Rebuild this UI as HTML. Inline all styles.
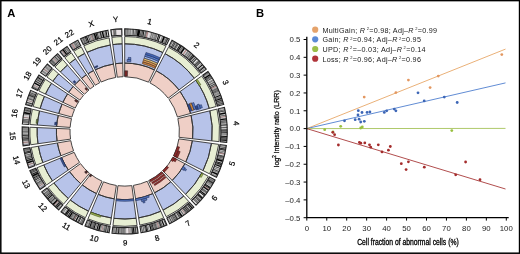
<!DOCTYPE html>
<html><head><meta charset="utf-8"><style>
html,body{margin:0;padding:0;background:#fff;overflow:hidden;}
svg{display:block;font-family:"Liberation Sans",sans-serif;will-change:transform;}
</style></head><body>
<svg width="520" height="254" viewBox="0 0 520 254">
<rect x="0" y="0" width="520" height="254" fill="#fff"/>
<g>
<path d="M124.7 63.1A68.3 68.3 0 0 1 154.42 69.91L148.51 82.15A54.7 54.7 0 0 0 124.7 76.7Z" fill="#efcfc6"/>
<path d="M124.7 43.8A87.6 87.6 0 0 1 162.82 52.53L154.42 69.91A68.3 68.3 0 0 0 124.7 63.1Z" fill="#b7c3e9"/>
<path d="M124.7 36.5A94.9 94.9 0 0 1 166 45.96L162.82 52.53A87.6 87.6 0 0 0 124.7 43.8Z" fill="#e7eed3"/>
<path d="M156.18 70.79A68.3 68.3 0 0 1 178.97 89.93L168.17 98.19A54.7 54.7 0 0 0 149.91 82.86Z" fill="#efcfc6"/>
<path d="M165.08 53.66A87.6 87.6 0 0 1 194.31 78.22L178.97 89.93A68.3 68.3 0 0 0 156.18 70.79Z" fill="#b7c3e9"/>
<path d="M168.44 47.18A94.9 94.9 0 0 1 200.11 73.79L194.31 78.22A87.6 87.6 0 0 0 165.08 53.66Z" fill="#e7eed3"/>
<path d="M180.14 91.51A68.3 68.3 0 0 1 190.6 113.45L177.48 117.02A54.7 54.7 0 0 0 169.1 99.46Z" fill="#efcfc6"/>
<path d="M195.81 80.24A87.6 87.6 0 0 1 209.22 108.38L190.6 113.45A68.3 68.3 0 0 0 180.14 91.51Z" fill="#b7c3e9"/>
<path d="M201.74 75.98A94.9 94.9 0 0 1 216.26 106.46L209.22 108.38A87.6 87.6 0 0 0 195.81 80.24Z" fill="#e7eed3"/>
<path d="M191.09 115.35A68.3 68.3 0 0 1 192.6 138.77L179.08 137.3A54.7 54.7 0 0 0 177.87 118.55Z" fill="#efcfc6"/>
<path d="M209.85 110.82A87.6 87.6 0 0 1 211.79 140.86L192.6 138.77A68.3 68.3 0 0 0 191.09 115.35Z" fill="#b7c3e9"/>
<path d="M216.94 109.11A94.9 94.9 0 0 1 219.05 141.64L211.79 140.86A87.6 87.6 0 0 0 209.85 110.82Z" fill="#e7eed3"/>
<path d="M192.36 140.73A68.3 68.3 0 0 1 185.79 161.95L173.62 155.87A54.7 54.7 0 0 0 178.89 138.87Z" fill="#efcfc6"/>
<path d="M211.48 143.36A87.6 87.6 0 0 1 203.05 170.58L185.79 161.95A68.3 68.3 0 0 0 192.36 140.73Z" fill="#b7c3e9"/>
<path d="M218.71 144.36A94.9 94.9 0 0 1 209.58 173.85L203.05 170.58A87.6 87.6 0 0 0 211.48 143.36Z" fill="#e7eed3"/>
<path d="M184.88 163.7A68.3 68.3 0 0 1 172.21 180.47L162.75 170.7A54.7 54.7 0 0 0 172.9 157.27Z" fill="#efcfc6"/>
<path d="M201.89 172.82A87.6 87.6 0 0 1 185.63 194.34L172.21 180.47A68.3 68.3 0 0 0 184.88 163.7Z" fill="#b7c3e9"/>
<path d="M208.32 176.28A94.9 94.9 0 0 1 190.71 199.58L185.63 194.34A87.6 87.6 0 0 0 201.89 172.82Z" fill="#e7eed3"/>
<path d="M170.77 181.82A68.3 68.3 0 0 1 154.59 192.81L148.64 180.58A54.7 54.7 0 0 0 161.6 171.78Z" fill="#efcfc6"/>
<path d="M183.79 196.07A87.6 87.6 0 0 1 163.04 210.17L154.59 192.81A68.3 68.3 0 0 0 170.77 181.82Z" fill="#b7c3e9"/>
<path d="M188.72 201.46A94.9 94.9 0 0 1 166.23 216.73L163.04 210.17A87.6 87.6 0 0 0 183.79 196.07Z" fill="#e7eed3"/>
<path d="M152.81 193.65A68.3 68.3 0 0 1 135.56 198.83L133.4 185.4A54.7 54.7 0 0 0 147.21 181.25Z" fill="#efcfc6"/>
<path d="M160.75 211.24A87.6 87.6 0 0 1 138.63 217.89L135.56 198.83A68.3 68.3 0 0 0 152.81 193.65Z" fill="#b7c3e9"/>
<path d="M163.76 217.89A94.9 94.9 0 0 1 139.79 225.09L138.63 217.89A87.6 87.6 0 0 0 160.75 211.24Z" fill="#e7eed3"/>
<path d="M133.62 199.12A68.3 68.3 0 0 1 116.24 199.17L117.93 185.68A54.7 54.7 0 0 0 131.84 185.63Z" fill="#efcfc6"/>
<path d="M136.13 218.25A87.6 87.6 0 0 1 113.85 218.33L116.24 199.17A68.3 68.3 0 0 0 133.62 199.12Z" fill="#b7c3e9"/>
<path d="M137.09 225.49A94.9 94.9 0 0 1 112.95 225.57L113.85 218.33A87.6 87.6 0 0 0 136.13 218.25Z" fill="#e7eed3"/>
<path d="M114.29 198.9A68.3 68.3 0 0 1 98.25 194.37L103.51 181.83A54.7 54.7 0 0 0 116.37 185.46Z" fill="#efcfc6"/>
<path d="M111.35 217.98A87.6 87.6 0 0 1 90.77 212.16L98.25 194.37A68.3 68.3 0 0 0 114.29 198.9Z" fill="#b7c3e9"/>
<path d="M110.24 225.19A94.9 94.9 0 0 1 87.94 218.89L90.77 212.16A87.6 87.6 0 0 0 111.35 217.98Z" fill="#e7eed3"/>
<path d="M96.44 193.58A68.3 68.3 0 0 1 82.27 184.92L90.71 174.26A54.7 54.7 0 0 0 102.07 181.2Z" fill="#efcfc6"/>
<path d="M88.46 211.15A87.6 87.6 0 0 1 70.27 200.04L82.27 184.92A68.3 68.3 0 0 0 96.44 193.58Z" fill="#b7c3e9"/>
<path d="M85.44 217.8A94.9 94.9 0 0 1 65.74 205.76L70.27 200.04A87.6 87.6 0 0 0 88.46 211.15Z" fill="#e7eed3"/>
<path d="M80.74 183.67A68.3 68.3 0 0 1 69.5 171.62L80.49 163.61A54.7 54.7 0 0 0 89.49 173.27Z" fill="#efcfc6"/>
<path d="M68.32 198.45A87.6 87.6 0 0 1 53.9 182.99L69.5 171.62A68.3 68.3 0 0 0 80.74 183.67Z" fill="#b7c3e9"/>
<path d="M63.62 204.03A94.9 94.9 0 0 1 48 187.29L53.9 182.99A87.6 87.6 0 0 0 68.32 198.45Z" fill="#e7eed3"/>
<path d="M68.36 170.02A68.3 68.3 0 0 1 61.6 157.54L74.17 152.34A54.7 54.7 0 0 0 79.58 162.33Z" fill="#efcfc6"/>
<path d="M52.45 180.93A87.6 87.6 0 0 1 43.77 164.93L61.6 157.54A68.3 68.3 0 0 0 68.36 170.02Z" fill="#b7c3e9"/>
<path d="M46.42 185.06A94.9 94.9 0 0 1 37.03 167.73L43.77 164.93A87.6 87.6 0 0 0 52.45 180.93Z" fill="#e7eed3"/>
<path d="M60.88 155.72A68.3 68.3 0 0 1 57.39 142.97L70.79 140.66A54.7 54.7 0 0 0 73.58 150.87Z" fill="#efcfc6"/>
<path d="M42.84 162.59A87.6 87.6 0 0 1 38.37 146.24L57.39 142.97A68.3 68.3 0 0 0 60.88 155.72Z" fill="#b7c3e9"/>
<path d="M36.02 165.19A94.9 94.9 0 0 1 31.17 147.47L38.37 146.24A87.6 87.6 0 0 0 42.84 162.59Z" fill="#e7eed3"/>
<path d="M57.08 141.02A68.3 68.3 0 0 1 56.47 128.41L70.05 129.01A54.7 54.7 0 0 0 70.55 139.11Z" fill="#efcfc6"/>
<path d="M37.97 143.74A87.6 87.6 0 0 1 37.18 127.57L56.47 128.41A68.3 68.3 0 0 0 57.08 141.02Z" fill="#b7c3e9"/>
<path d="M30.75 144.77A94.9 94.9 0 0 1 29.89 127.25L37.18 127.57A87.6 87.6 0 0 0 37.97 143.74Z" fill="#e7eed3"/>
<path d="M56.58 126.45A68.3 68.3 0 0 1 58.29 115.44L71.51 118.62A54.7 54.7 0 0 0 70.14 127.43Z" fill="#efcfc6"/>
<path d="M37.33 125.05A87.6 87.6 0 0 1 39.53 110.93L58.29 115.44A68.3 68.3 0 0 0 56.58 126.45Z" fill="#b7c3e9"/>
<path d="M30.05 124.52A94.9 94.9 0 0 1 32.43 109.22L39.53 110.93A87.6 87.6 0 0 0 37.33 125.05Z" fill="#e7eed3"/>
<path d="M58.78 113.53A68.3 68.3 0 0 1 62.1 104.09L74.56 109.53A54.7 54.7 0 0 0 71.9 117.09Z" fill="#efcfc6"/>
<path d="M40.15 108.48A87.6 87.6 0 0 1 44.41 96.37L62.1 104.09A68.3 68.3 0 0 0 58.78 113.53Z" fill="#b7c3e9"/>
<path d="M33.1 106.57A94.9 94.9 0 0 1 37.72 93.45L44.41 96.37A87.6 87.6 0 0 0 40.15 108.48Z" fill="#e7eed3"/>
<path d="M62.91 102.3A68.3 68.3 0 0 1 67.62 93.9L78.98 101.37A54.7 54.7 0 0 0 75.21 108.09Z" fill="#efcfc6"/>
<path d="M45.45 94.08A87.6 87.6 0 0 1 51.49 83.3L67.62 93.9A68.3 68.3 0 0 0 62.91 102.3Z" fill="#b7c3e9"/>
<path d="M38.85 90.96A94.9 94.9 0 0 1 45.38 79.29L51.49 83.3A87.6 87.6 0 0 0 45.45 94.08Z" fill="#e7eed3"/>
<path d="M68.72 92.27A68.3 68.3 0 0 1 73.21 86.53L83.46 95.46A54.7 54.7 0 0 0 79.87 100.06Z" fill="#efcfc6"/>
<path d="M52.9 81.21A87.6 87.6 0 0 1 58.66 73.85L73.21 86.53A68.3 68.3 0 0 0 68.72 92.27Z" fill="#b7c3e9"/>
<path d="M46.92 77.03A94.9 94.9 0 0 1 53.15 69.05L58.66 73.85A87.6 87.6 0 0 0 52.9 81.21Z" fill="#e7eed3"/>
<path d="M74.52 85.06A68.3 68.3 0 0 1 80.11 79.67L88.99 89.97A54.7 54.7 0 0 0 84.51 94.29Z" fill="#efcfc6"/>
<path d="M60.34 71.97A87.6 87.6 0 0 1 67.51 65.05L80.11 79.67A68.3 68.3 0 0 0 74.52 85.06Z" fill="#b7c3e9"/>
<path d="M54.98 67.02A94.9 94.9 0 0 1 62.74 59.52L67.51 65.05A87.6 87.6 0 0 0 60.34 71.97Z" fill="#e7eed3"/>
<path d="M81.62 78.4A68.3 68.3 0 0 1 86.38 74.86L94.01 86.12A54.7 54.7 0 0 0 90.19 88.96Z" fill="#efcfc6"/>
<path d="M69.44 63.43A87.6 87.6 0 0 1 75.55 58.89L86.38 74.86A68.3 68.3 0 0 0 81.62 78.4Z" fill="#b7c3e9"/>
<path d="M64.84 57.76A94.9 94.9 0 0 1 71.45 52.85L75.55 58.89A87.6 87.6 0 0 0 69.44 63.43Z" fill="#e7eed3"/>
<path d="M88.02 73.78A68.3 68.3 0 0 1 93.51 70.64L99.72 82.74A54.7 54.7 0 0 0 95.32 85.26Z" fill="#efcfc6"/>
<path d="M77.66 57.5A87.6 87.6 0 0 1 84.7 53.47L93.51 70.64A68.3 68.3 0 0 0 88.02 73.78Z" fill="#b7c3e9"/>
<path d="M73.74 51.35A94.9 94.9 0 0 1 81.36 46.97L84.7 53.47A87.6 87.6 0 0 0 77.66 57.5Z" fill="#e7eed3"/>
<path d="M95.27 69.76A68.3 68.3 0 0 1 113.49 64.03L115.72 77.44A54.7 54.7 0 0 0 101.13 82.04Z" fill="#efcfc6"/>
<path d="M86.96 52.35A87.6 87.6 0 0 1 110.32 44.99L113.49 64.03A68.3 68.3 0 0 0 95.27 69.76Z" fill="#b7c3e9"/>
<path d="M83.81 45.76A94.9 94.9 0 0 1 109.12 37.79L110.32 44.99A87.6 87.6 0 0 0 86.96 52.35Z" fill="#e7eed3"/>
<path d="M115.43 63.73A68.3 68.3 0 0 1 122.73 63.13L123.12 76.72A54.7 54.7 0 0 0 117.28 77.21Z" fill="#efcfc6"/>
<path d="M112.81 44.61A87.6 87.6 0 0 1 122.18 43.84L122.73 63.13A68.3 68.3 0 0 0 115.43 63.73Z" fill="#b7c3e9"/>
<path d="M111.82 37.38A94.9 94.9 0 0 1 121.97 36.54L122.18 43.84A87.6 87.6 0 0 0 112.81 44.61Z" fill="#e7eed3"/>
<path d="M124.7 28.8A102.6 102.6 0 0 1 169.35 39.03L166.57 44.79A96.2 96.2 0 0 0 124.7 35.2Z" fill="#efefef"/>
<path d="M125.13 28.8A102.6 102.6 0 0 1 125.68 28.8L125.62 35.2A96.2 96.2 0 0 0 125.1 35.2Z" fill="#9a9a9a" stroke="#333" stroke-width="0.22"/>
<path d="M126.02 28.81A102.6 102.6 0 0 1 126.41 28.81L126.3 35.21A96.2 96.2 0 0 0 125.93 35.21Z" fill="#9a9a9a" stroke="#333" stroke-width="0.22"/>
<path d="M127.02 28.83A102.6 102.6 0 0 1 127.65 28.84L127.46 35.24A96.2 96.2 0 0 0 126.87 35.22Z" fill="#666666" stroke="#333" stroke-width="0.22"/>
<path d="M128.42 28.87A102.6 102.6 0 0 1 129.07 28.89L128.8 35.29A96.2 96.2 0 0 0 128.19 35.26Z" fill="#9a9a9a" stroke="#333" stroke-width="0.22"/>
<path d="M129.81 28.93A102.6 102.6 0 0 1 130.24 28.95L129.89 35.34A96.2 96.2 0 0 0 129.49 35.32Z" fill="#9a9a9a" stroke="#333" stroke-width="0.22"/>
<path d="M130.68 28.97A102.6 102.6 0 0 1 131.05 29L130.66 35.38A96.2 96.2 0 0 0 130.31 35.36Z" fill="#9a9a9a" stroke="#333" stroke-width="0.22"/>
<path d="M132.03 29.06A102.6 102.6 0 0 1 132.79 29.12L132.29 35.5A96.2 96.2 0 0 0 131.58 35.45Z" fill="#9a9a9a" stroke="#333" stroke-width="0.22"/>
<path d="M133.27 29.16A102.6 102.6 0 0 1 133.99 29.22L133.41 35.6A96.2 96.2 0 0 0 132.74 35.54Z" fill="#363636" stroke="#333" stroke-width="0.22"/>
<path d="M134.99 29.32A102.6 102.6 0 0 1 135.52 29.37L134.85 35.74A96.2 96.2 0 0 0 134.35 35.68Z" fill="#666666" stroke="#333" stroke-width="0.22"/>
<path d="M135.95 29.42A102.6 102.6 0 0 1 137.36 29.58L136.57 35.94A96.2 96.2 0 0 0 135.24 35.78Z" fill="#666666" stroke="#333" stroke-width="0.22"/>
<path d="M137.6 29.61A102.6 102.6 0 0 1 140.37 30L139.4 36.33A96.2 96.2 0 0 0 136.8 35.96Z" fill="#000000" stroke="#333" stroke-width="0.22"/>
<path d="M141.01 30.11A102.6 102.6 0 0 1 141.67 30.21L140.61 36.53A96.2 96.2 0 0 0 140 36.42Z" fill="#363636" stroke="#333" stroke-width="0.22"/>
<path d="M142.17 30.3A102.6 102.6 0 0 1 143.08 30.46L141.93 36.76A96.2 96.2 0 0 0 141.08 36.6Z" fill="#363636" stroke="#333" stroke-width="0.22"/>
<path d="M143.53 30.54A102.6 102.6 0 0 1 144.44 30.72L143.21 37A96.2 96.2 0 0 0 142.36 36.83Z" fill="#000000" stroke="#333" stroke-width="0.22"/>
<path d="M145.28 30.89A102.6 102.6 0 0 1 146.06 31.05L144.73 37.31A96.2 96.2 0 0 0 144 37.16Z" fill="#666666" stroke="#333" stroke-width="0.22"/>
<path d="M146.37 31.11A102.6 102.6 0 0 1 146.89 31.23L145.51 37.48A96.2 96.2 0 0 0 145.02 37.37Z" fill="#666666" stroke="#333" stroke-width="0.22"/>
<path d="M147.04 31.26A102.6 102.6 0 0 1 148.38 31.57L146.9 37.8A96.2 96.2 0 0 0 145.65 37.51Z" fill="#c89494" stroke="#333" stroke-width="0.22"/>
<path d="M148.38 31.57A102.6 102.6 0 0 1 150.84 32.19L149.21 38.37A96.2 96.2 0 0 0 146.9 37.8Z" fill="#e8e2e4" stroke="#333" stroke-width="0.22"/>
<path d="M151.63 32.4A102.6 102.6 0 0 1 152.22 32.56L150.5 38.72A96.2 96.2 0 0 0 149.95 38.57Z" fill="#666666" stroke="#333" stroke-width="0.22"/>
<path d="M153.05 32.8A102.6 102.6 0 0 1 153.32 32.87L151.54 39.02A96.2 96.2 0 0 0 151.29 38.95Z" fill="#666666" stroke="#333" stroke-width="0.22"/>
<path d="M153.78 33.01A102.6 102.6 0 0 1 154.03 33.08L152.2 39.22A96.2 96.2 0 0 0 151.97 39.15Z" fill="#666666" stroke="#333" stroke-width="0.22"/>
<path d="M154.92 33.35A102.6 102.6 0 0 1 155.22 33.44L153.32 39.55A96.2 96.2 0 0 0 153.03 39.47Z" fill="#666666" stroke="#333" stroke-width="0.22"/>
<path d="M155.87 33.65A102.6 102.6 0 0 1 156.23 33.76L154.26 39.85A96.2 96.2 0 0 0 153.93 39.75Z" fill="#363636" stroke="#333" stroke-width="0.22"/>
<path d="M156.77 33.94A102.6 102.6 0 0 1 157.53 34.19L155.48 40.26A96.2 96.2 0 0 0 154.77 40.02Z" fill="#666666" stroke="#333" stroke-width="0.22"/>
<path d="M158.49 34.53A102.6 102.6 0 0 1 159.37 34.83L157.2 40.86A96.2 96.2 0 0 0 156.39 40.57Z" fill="#000000" stroke="#333" stroke-width="0.22"/>
<path d="M159.89 35.02A102.6 102.6 0 0 1 160.74 35.34L158.49 41.33A96.2 96.2 0 0 0 157.69 41.04Z" fill="#000000" stroke="#333" stroke-width="0.22"/>
<path d="M162.21 35.9A102.6 102.6 0 0 1 162.95 36.2L160.57 42.14A96.2 96.2 0 0 0 159.87 41.86Z" fill="#9a9a9a" stroke="#333" stroke-width="0.22"/>
<path d="M163.47 36.41A102.6 102.6 0 0 1 165.11 37.09L162.59 42.98A96.2 96.2 0 0 0 161.05 42.33Z" fill="#000000" stroke="#333" stroke-width="0.22"/>
<path d="M165.19 37.13A102.6 102.6 0 0 1 165.6 37.31L163.05 43.18A96.2 96.2 0 0 0 162.67 43.01Z" fill="#9a9a9a" stroke="#333" stroke-width="0.22"/>
<path d="M166.23 37.58A102.6 102.6 0 0 1 166.91 37.88L164.28 43.72A96.2 96.2 0 0 0 163.64 43.43Z" fill="#666666" stroke="#333" stroke-width="0.22"/>
<path d="M167.23 38.03A102.6 102.6 0 0 1 168.42 38.58L165.7 44.37A96.2 96.2 0 0 0 164.58 43.85Z" fill="#363636" stroke="#333" stroke-width="0.22"/>
<path d="M171.99 40.35A102.6 102.6 0 0 1 206.23 69.11L201.14 73A96.2 96.2 0 0 0 169.04 46.03Z" fill="#efefef"/>
<path d="M172.71 40.73A102.6 102.6 0 0 1 173.16 40.96L170.13 46.6A96.2 96.2 0 0 0 169.72 46.38Z" fill="#666666" stroke="#333" stroke-width="0.22"/>
<path d="M173.99 41.41A102.6 102.6 0 0 1 174.72 41.82L171.6 47.41A96.2 96.2 0 0 0 170.91 47.03Z" fill="#363636" stroke="#333" stroke-width="0.22"/>
<path d="M175.12 42.04A102.6 102.6 0 0 1 175.89 42.48L172.7 48.03A96.2 96.2 0 0 0 171.98 47.62Z" fill="#363636" stroke="#333" stroke-width="0.22"/>
<path d="M176.52 42.85A102.6 102.6 0 0 1 176.85 43.04L173.6 48.56A96.2 96.2 0 0 0 173.29 48.37Z" fill="#9a9a9a" stroke="#333" stroke-width="0.22"/>
<path d="M177.19 43.24A102.6 102.6 0 0 1 177.9 43.67L174.59 49.15A96.2 96.2 0 0 0 173.92 48.74Z" fill="#363636" stroke="#333" stroke-width="0.22"/>
<path d="M178.22 43.87A102.6 102.6 0 0 1 178.73 44.18L175.36 49.62A96.2 96.2 0 0 0 174.88 49.33Z" fill="#666666" stroke="#333" stroke-width="0.22"/>
<path d="M179.67 44.77A102.6 102.6 0 0 1 180.46 45.28L176.99 50.65A96.2 96.2 0 0 0 176.24 50.17Z" fill="#000000" stroke="#333" stroke-width="0.22"/>
<path d="M180.79 45.49A102.6 102.6 0 0 1 181.76 46.13L178.21 51.45A96.2 96.2 0 0 0 177.29 50.85Z" fill="#000000" stroke="#333" stroke-width="0.22"/>
<path d="M182.2 46.42A102.6 102.6 0 0 1 182.88 46.89L179.25 52.16A96.2 96.2 0 0 0 178.61 51.72Z" fill="#666666" stroke="#333" stroke-width="0.22"/>
<path d="M183.33 47.2A102.6 102.6 0 0 1 183.63 47.41L179.95 52.65A96.2 96.2 0 0 0 179.67 52.45Z" fill="#666666" stroke="#333" stroke-width="0.22"/>
<path d="M183.86 47.57A102.6 102.6 0 0 1 185.11 48.47L181.34 53.64A96.2 96.2 0 0 0 180.17 52.8Z" fill="#000000" stroke="#333" stroke-width="0.22"/>
<path d="M186.18 49.26A102.6 102.6 0 0 1 187.11 49.97L183.22 55.05A96.2 96.2 0 0 0 182.35 54.38Z" fill="#c89494" stroke="#333" stroke-width="0.22"/>
<path d="M187.98 50.64A102.6 102.6 0 0 1 188.46 51.01L184.48 56.03A96.2 96.2 0 0 0 184.03 55.67Z" fill="#666666" stroke="#333" stroke-width="0.22"/>
<path d="M188.67 51.19A102.6 102.6 0 0 1 189.06 51.5L185.05 56.48A96.2 96.2 0 0 0 184.68 56.19Z" fill="#9a9a9a" stroke="#333" stroke-width="0.22"/>
<path d="M189.67 51.99A102.6 102.6 0 0 1 190.3 52.51L186.21 57.43A96.2 96.2 0 0 0 185.62 56.94Z" fill="#666666" stroke="#333" stroke-width="0.22"/>
<path d="M190.81 52.94A102.6 102.6 0 0 1 191.87 53.84L187.68 58.68A96.2 96.2 0 0 0 186.69 57.83Z" fill="#666666" stroke="#333" stroke-width="0.22"/>
<path d="M192.23 54.16A102.6 102.6 0 0 1 192.59 54.48L188.36 59.27A96.2 96.2 0 0 0 188.02 58.98Z" fill="#9a9a9a" stroke="#333" stroke-width="0.22"/>
<path d="M192.83 54.68A102.6 102.6 0 0 1 193.57 55.35L189.28 60.1A96.2 96.2 0 0 0 188.58 59.47Z" fill="#000000" stroke="#333" stroke-width="0.22"/>
<path d="M193.83 55.59A102.6 102.6 0 0 1 194.46 56.17L190.11 60.86A96.2 96.2 0 0 0 189.52 60.32Z" fill="#000000" stroke="#333" stroke-width="0.22"/>
<path d="M194.62 56.32A102.6 102.6 0 0 1 194.71 56.39L190.34 61.07A96.2 96.2 0 0 0 190.26 61Z" fill="#9a9a9a" stroke="#333" stroke-width="0.22"/>
<path d="M195.3 56.95A102.6 102.6 0 0 1 195.96 57.58L191.51 62.18A96.2 96.2 0 0 0 190.9 61.6Z" fill="#363636" stroke="#333" stroke-width="0.22"/>
<path d="M196.47 58.08A102.6 102.6 0 0 1 197.26 58.87L192.74 63.39A96.2 96.2 0 0 0 192 62.66Z" fill="#363636" stroke="#333" stroke-width="0.22"/>
<path d="M198.34 59.96A102.6 102.6 0 0 1 198.68 60.31L194.06 64.74A96.2 96.2 0 0 0 193.75 64.42Z" fill="#666666" stroke="#333" stroke-width="0.22"/>
<path d="M198.99 60.63A102.6 102.6 0 0 1 199.8 61.49L195.11 65.85A96.2 96.2 0 0 0 194.35 65.04Z" fill="#363636" stroke="#333" stroke-width="0.22"/>
<path d="M200.11 61.83A102.6 102.6 0 0 1 200.8 62.59L196.05 66.88A96.2 96.2 0 0 0 195.41 66.17Z" fill="#363636" stroke="#333" stroke-width="0.22"/>
<path d="M201.53 63.4A102.6 102.6 0 0 1 201.73 63.62L196.92 67.85A96.2 96.2 0 0 0 196.74 67.64Z" fill="#666666" stroke="#333" stroke-width="0.22"/>
<path d="M202.23 64.2A102.6 102.6 0 0 1 202.99 65.08L198.1 69.22A96.2 96.2 0 0 0 197.39 68.39Z" fill="#000000" stroke="#333" stroke-width="0.22"/>
<path d="M203.72 65.96A102.6 102.6 0 0 1 204.16 66.49L199.2 70.54A96.2 96.2 0 0 0 198.79 70.05Z" fill="#363636" stroke="#333" stroke-width="0.22"/>
<path d="M204.27 66.62A102.6 102.6 0 0 1 204.84 67.33L199.84 71.33A96.2 96.2 0 0 0 199.3 70.66Z" fill="#000000" stroke="#333" stroke-width="0.22"/>
<path d="M205.37 68A102.6 102.6 0 0 1 205.56 68.25L200.52 72.18A96.2 96.2 0 0 0 200.33 71.95Z" fill="#666666" stroke="#333" stroke-width="0.22"/>
<path d="M207.99 71.48A102.6 102.6 0 0 1 223.69 104.44L217.52 106.12A96.2 96.2 0 0 0 202.79 75.22Z" fill="#efefef"/>
<path d="M207.99 71.48A102.6 102.6 0 0 1 208.29 71.91L203.08 75.62A96.2 96.2 0 0 0 202.79 75.22Z" fill="#666666" stroke="#333" stroke-width="0.22"/>
<path d="M208.42 72.09A102.6 102.6 0 0 1 208.92 72.8L203.67 76.46A96.2 96.2 0 0 0 203.2 75.79Z" fill="#666666" stroke="#333" stroke-width="0.22"/>
<path d="M209.25 73.27A102.6 102.6 0 0 1 209.4 73.5L204.12 77.11A96.2 96.2 0 0 0 203.97 76.9Z" fill="#9a9a9a" stroke="#333" stroke-width="0.22"/>
<path d="M209.73 73.98A102.6 102.6 0 0 1 210.5 75.13L205.14 78.64A96.2 96.2 0 0 0 204.42 77.56Z" fill="#000000" stroke="#333" stroke-width="0.22"/>
<path d="M210.75 75.52A102.6 102.6 0 0 1 211.2 76.22L205.81 79.67A96.2 96.2 0 0 0 205.38 79.01Z" fill="#363636" stroke="#333" stroke-width="0.22"/>
<path d="M211.32 76.41A102.6 102.6 0 0 1 211.75 77.1L206.32 80.49A96.2 96.2 0 0 0 205.92 79.84Z" fill="#666666" stroke="#333" stroke-width="0.22"/>
<path d="M212.03 77.54A102.6 102.6 0 0 1 212.44 78.22L206.97 81.54A96.2 96.2 0 0 0 206.58 80.9Z" fill="#363636" stroke="#333" stroke-width="0.22"/>
<path d="M213.11 79.34A102.6 102.6 0 0 1 213.27 79.61L207.74 82.84A96.2 96.2 0 0 0 207.59 82.58Z" fill="#9a9a9a" stroke="#333" stroke-width="0.22"/>
<path d="M213.46 79.94A102.6 102.6 0 0 1 213.85 80.62L208.29 83.79A96.2 96.2 0 0 0 207.93 83.15Z" fill="#666666" stroke="#333" stroke-width="0.22"/>
<path d="M214.32 81.44A102.6 102.6 0 0 1 214.86 82.43L209.24 85.49A96.2 96.2 0 0 0 208.73 84.56Z" fill="#666666" stroke="#333" stroke-width="0.22"/>
<path d="M215.25 83.15A102.6 102.6 0 0 1 215.73 84.07L210.05 87.02A96.2 96.2 0 0 0 209.6 86.16Z" fill="#363636" stroke="#333" stroke-width="0.22"/>
<path d="M216.05 84.68A102.6 102.6 0 0 1 216.36 85.29L210.64 88.17A96.2 96.2 0 0 0 210.35 87.59Z" fill="#363636" stroke="#333" stroke-width="0.22"/>
<path d="M216.41 85.41A102.6 102.6 0 0 1 216.91 86.4L211.16 89.21A96.2 96.2 0 0 0 210.69 88.28Z" fill="#c89494" stroke="#333" stroke-width="0.22"/>
<path d="M216.91 86.4A102.6 102.6 0 0 1 217.26 87.14L211.49 89.9A96.2 96.2 0 0 0 211.16 89.21Z" fill="#e8e2e4" stroke="#333" stroke-width="0.22"/>
<path d="M217.4 87.42A102.6 102.6 0 0 1 217.49 87.62L211.7 90.35A96.2 96.2 0 0 0 211.61 90.17Z" fill="#9a9a9a" stroke="#333" stroke-width="0.22"/>
<path d="M217.7 88.06A102.6 102.6 0 0 1 217.88 88.46L212.07 91.14A96.2 96.2 0 0 0 211.9 90.76Z" fill="#363636" stroke="#333" stroke-width="0.22"/>
<path d="M218.02 88.75A102.6 102.6 0 0 1 218.28 89.32L212.44 91.95A96.2 96.2 0 0 0 212.19 91.41Z" fill="#666666" stroke="#333" stroke-width="0.22"/>
<path d="M218.44 89.7A102.6 102.6 0 0 1 218.73 90.34L212.86 92.9A96.2 96.2 0 0 0 212.59 92.3Z" fill="#363636" stroke="#333" stroke-width="0.22"/>
<path d="M218.85 90.63A102.6 102.6 0 0 1 219.06 91.12L213.18 93.64A96.2 96.2 0 0 0 212.98 93.17Z" fill="#363636" stroke="#333" stroke-width="0.22"/>
<path d="M219.2 91.45A102.6 102.6 0 0 1 219.35 91.79L213.44 94.26A96.2 96.2 0 0 0 213.31 93.94Z" fill="#9a9a9a" stroke="#333" stroke-width="0.22"/>
<path d="M219.59 92.37A102.6 102.6 0 0 1 219.9 93.14L213.96 95.53A96.2 96.2 0 0 0 213.67 94.81Z" fill="#9a9a9a" stroke="#333" stroke-width="0.22"/>
<path d="M220.04 93.49A102.6 102.6 0 0 1 220.24 94.01L214.28 96.34A96.2 96.2 0 0 0 214.09 95.85Z" fill="#9a9a9a" stroke="#333" stroke-width="0.22"/>
<path d="M220.52 94.71A102.6 102.6 0 0 1 220.92 95.77L214.91 97.99A96.2 96.2 0 0 0 214.54 97Z" fill="#000000" stroke="#333" stroke-width="0.22"/>
<path d="M221.12 96.33A102.6 102.6 0 0 1 221.3 96.83L215.28 98.99A96.2 96.2 0 0 0 215.11 98.52Z" fill="#666666" stroke="#333" stroke-width="0.22"/>
<path d="M221.43 97.18A102.6 102.6 0 0 1 221.55 97.53L215.51 99.65A96.2 96.2 0 0 0 215.39 99.32Z" fill="#666666" stroke="#333" stroke-width="0.22"/>
<path d="M221.65 97.83A102.6 102.6 0 0 1 222.06 99.04L215.99 101.06A96.2 96.2 0 0 0 215.61 99.93Z" fill="#000000" stroke="#333" stroke-width="0.22"/>
<path d="M222.26 99.62A102.6 102.6 0 0 1 222.53 100.47L216.42 102.4A96.2 96.2 0 0 0 216.17 101.61Z" fill="#363636" stroke="#333" stroke-width="0.22"/>
<path d="M222.71 101.05A102.6 102.6 0 0 1 222.91 101.71L216.78 103.56A96.2 96.2 0 0 0 216.6 102.95Z" fill="#363636" stroke="#333" stroke-width="0.22"/>
<path d="M223.01 102.03A102.6 102.6 0 0 1 223.09 102.3L216.95 104.11A96.2 96.2 0 0 0 216.87 103.86Z" fill="#9a9a9a" stroke="#333" stroke-width="0.22"/>
<path d="M223.18 102.63A102.6 102.6 0 0 1 223.41 103.42L217.25 105.16A96.2 96.2 0 0 0 217.04 104.43Z" fill="#363636" stroke="#333" stroke-width="0.22"/>
<path d="M224.43 107.3A102.6 102.6 0 0 1 226.7 142.48L220.34 141.78A96.2 96.2 0 0 0 218.21 108.8Z" fill="#efefef"/>
<path d="M224.62 108.11A102.6 102.6 0 0 1 224.68 108.38L218.45 109.81A96.2 96.2 0 0 0 218.39 109.56Z" fill="#9a9a9a" stroke="#333" stroke-width="0.22"/>
<path d="M224.9 109.34A102.6 102.6 0 0 1 225.05 110.04L218.79 111.38A96.2 96.2 0 0 0 218.65 110.71Z" fill="#666666" stroke="#333" stroke-width="0.22"/>
<path d="M225.15 110.52A102.6 102.6 0 0 1 225.28 111.15L219.01 112.41A96.2 96.2 0 0 0 218.89 111.82Z" fill="#363636" stroke="#333" stroke-width="0.22"/>
<path d="M225.51 112.32A102.6 102.6 0 0 1 225.78 113.79L219.47 114.89A96.2 96.2 0 0 0 219.22 113.51Z" fill="#000000" stroke="#333" stroke-width="0.22"/>
<path d="M225.94 114.78A102.6 102.6 0 0 1 226.04 115.4L219.72 116.4A96.2 96.2 0 0 0 219.63 115.82Z" fill="#666666" stroke="#333" stroke-width="0.22"/>
<path d="M226.15 116.06A102.6 102.6 0 0 1 226.27 116.89L219.93 117.79A96.2 96.2 0 0 0 219.82 117.02Z" fill="#c89494" stroke="#333" stroke-width="0.22"/>
<path d="M226.44 118.13A102.6 102.6 0 0 1 226.6 119.44L220.24 120.19A96.2 96.2 0 0 0 220.09 118.96Z" fill="#000000" stroke="#333" stroke-width="0.22"/>
<path d="M226.68 120.16A102.6 102.6 0 0 1 226.79 121.23L220.43 121.86A96.2 96.2 0 0 0 220.32 120.86Z" fill="#363636" stroke="#333" stroke-width="0.22"/>
<path d="M226.84 121.71A102.6 102.6 0 0 1 226.9 122.35L220.53 122.92A96.2 96.2 0 0 0 220.47 122.31Z" fill="#666666" stroke="#333" stroke-width="0.22"/>
<path d="M226.93 122.67A102.6 102.6 0 0 1 226.97 123.18L220.59 123.7A96.2 96.2 0 0 0 220.55 123.21Z" fill="#9a9a9a" stroke="#333" stroke-width="0.22"/>
<path d="M227.05 124.27A102.6 102.6 0 0 1 227.1 124.96L220.71 125.36A96.2 96.2 0 0 0 220.67 124.72Z" fill="#363636" stroke="#333" stroke-width="0.22"/>
<path d="M227.11 125.22A102.6 102.6 0 0 1 227.14 125.62L220.75 125.99A96.2 96.2 0 0 0 220.73 125.6Z" fill="#363636" stroke="#333" stroke-width="0.22"/>
<path d="M227.2 126.85A102.6 102.6 0 0 1 227.25 128.05L220.85 128.26A96.2 96.2 0 0 0 220.81 127.13Z" fill="#666666" stroke="#333" stroke-width="0.22"/>
<path d="M227.28 129.29A102.6 102.6 0 0 1 227.3 130.66L220.9 130.71A96.2 96.2 0 0 0 220.88 129.42Z" fill="#363636" stroke="#333" stroke-width="0.22"/>
<path d="M227.3 131.02A102.6 102.6 0 0 1 227.3 131.65L220.9 131.63A96.2 96.2 0 0 0 220.9 131.04Z" fill="#666666" stroke="#333" stroke-width="0.22"/>
<path d="M227.3 132.29A102.6 102.6 0 0 1 227.29 132.92L220.89 132.83A96.2 96.2 0 0 0 220.9 132.24Z" fill="#000000" stroke="#333" stroke-width="0.22"/>
<path d="M227.28 133.29A102.6 102.6 0 0 1 227.26 134.28L220.86 134.1A96.2 96.2 0 0 0 220.88 133.18Z" fill="#9a9a9a" stroke="#333" stroke-width="0.22"/>
<path d="M227.25 134.59A102.6 102.6 0 0 1 227.23 135.07L220.84 134.84A96.2 96.2 0 0 0 220.85 134.39Z" fill="#9a9a9a" stroke="#333" stroke-width="0.22"/>
<path d="M227.2 135.91A102.6 102.6 0 0 1 227.14 137.05L220.75 136.7A96.2 96.2 0 0 0 220.81 135.63Z" fill="#000000" stroke="#333" stroke-width="0.22"/>
<path d="M227.12 137.55A102.6 102.6 0 0 1 227.05 138.59L220.66 138.14A96.2 96.2 0 0 0 220.73 137.17Z" fill="#000000" stroke="#333" stroke-width="0.22"/>
<path d="M227.02 138.92A102.6 102.6 0 0 1 226.96 139.74L220.58 139.22A96.2 96.2 0 0 0 220.64 138.45Z" fill="#363636" stroke="#333" stroke-width="0.22"/>
<path d="M226.94 139.96A102.6 102.6 0 0 1 226.85 141.01L220.48 140.41A96.2 96.2 0 0 0 220.56 139.42Z" fill="#000000" stroke="#333" stroke-width="0.22"/>
<path d="M226.78 141.73A102.6 102.6 0 0 1 226.7 142.48L220.34 141.78A96.2 96.2 0 0 0 220.41 141.08Z" fill="#9a9a9a" stroke="#333" stroke-width="0.22"/>
<path d="M226.34 145.41A102.6 102.6 0 0 1 216.46 177.29L210.74 174.43A96.2 96.2 0 0 0 220 144.53Z" fill="#efefef"/>
<path d="M226.22 146.23A102.6 102.6 0 0 1 226.17 146.56L219.84 145.62A96.2 96.2 0 0 0 219.89 145.31Z" fill="#9a9a9a" stroke="#333" stroke-width="0.22"/>
<path d="M226.08 147.21A102.6 102.6 0 0 1 225.92 148.16L219.61 147.11A96.2 96.2 0 0 0 219.75 146.22Z" fill="#666666" stroke="#333" stroke-width="0.22"/>
<path d="M225.82 148.78A102.6 102.6 0 0 1 225.66 149.67L219.36 148.53A96.2 96.2 0 0 0 219.51 147.69Z" fill="#000000" stroke="#333" stroke-width="0.22"/>
<path d="M225.62 149.91A102.6 102.6 0 0 1 225.47 150.69L219.18 149.49A96.2 96.2 0 0 0 219.32 148.75Z" fill="#000000" stroke="#333" stroke-width="0.22"/>
<path d="M225.3 151.58A102.6 102.6 0 0 1 225.12 152.42L218.86 151.11A96.2 96.2 0 0 0 219.02 150.32Z" fill="#9a9a9a" stroke="#333" stroke-width="0.22"/>
<path d="M224.97 153.16A102.6 102.6 0 0 1 224.82 153.81L218.58 152.42A96.2 96.2 0 0 0 218.71 151.8Z" fill="#666666" stroke="#333" stroke-width="0.22"/>
<path d="M224.82 153.81A102.6 102.6 0 0 1 224.63 154.65L218.4 153.2A96.2 96.2 0 0 0 218.58 152.42Z" fill="#c89494" stroke="#333" stroke-width="0.22"/>
<path d="M224.28 156.12A102.6 102.6 0 0 1 224.1 156.84L217.9 155.25A96.2 96.2 0 0 0 218.07 154.58Z" fill="#363636" stroke="#333" stroke-width="0.22"/>
<path d="M224.08 156.9A102.6 102.6 0 0 1 223.92 157.52L217.73 155.89A96.2 96.2 0 0 0 217.88 155.31Z" fill="#363636" stroke="#333" stroke-width="0.22"/>
<path d="M223.84 157.83A102.6 102.6 0 0 1 223.6 158.7L217.43 157A96.2 96.2 0 0 0 217.65 156.18Z" fill="#666666" stroke="#333" stroke-width="0.22"/>
<path d="M223.42 159.35A102.6 102.6 0 0 1 223.19 160.15L217.05 158.36A96.2 96.2 0 0 0 217.26 157.6Z" fill="#666666" stroke="#333" stroke-width="0.22"/>
<path d="M223.12 160.4A102.6 102.6 0 0 1 222.6 162.08L216.5 160.17A96.2 96.2 0 0 0 216.98 158.59Z" fill="#000000" stroke="#333" stroke-width="0.22"/>
<path d="M222.27 163.12A102.6 102.6 0 0 1 222.01 163.93L215.94 161.9A96.2 96.2 0 0 0 216.19 161.15Z" fill="#000000" stroke="#333" stroke-width="0.22"/>
<path d="M221.9 164.23A102.6 102.6 0 0 1 221.6 165.13L215.55 163.02A96.2 96.2 0 0 0 215.84 162.18Z" fill="#000000" stroke="#333" stroke-width="0.22"/>
<path d="M221.48 165.46A102.6 102.6 0 0 1 221.38 165.74L215.35 163.6A96.2 96.2 0 0 0 215.44 163.33Z" fill="#666666" stroke="#333" stroke-width="0.22"/>
<path d="M221.25 166.1A102.6 102.6 0 0 1 220.86 167.18L214.86 164.95A96.2 96.2 0 0 0 215.23 163.94Z" fill="#000000" stroke="#333" stroke-width="0.22"/>
<path d="M220.47 168.21A102.6 102.6 0 0 1 220.25 168.78L214.29 166.45A96.2 96.2 0 0 0 214.5 165.91Z" fill="#000000" stroke="#333" stroke-width="0.22"/>
<path d="M219.87 169.74A102.6 102.6 0 0 1 219.64 170.31L213.71 167.88A96.2 96.2 0 0 0 213.93 167.35Z" fill="#9a9a9a" stroke="#333" stroke-width="0.22"/>
<path d="M219.28 171.16A102.6 102.6 0 0 1 218.9 172.07L213.02 169.53A96.2 96.2 0 0 0 213.38 168.68Z" fill="#363636" stroke="#333" stroke-width="0.22"/>
<path d="M218.68 172.56A102.6 102.6 0 0 1 218.46 173.07L212.61 170.47A96.2 96.2 0 0 0 212.82 169.99Z" fill="#666666" stroke="#333" stroke-width="0.22"/>
<path d="M218.14 173.78A102.6 102.6 0 0 1 217.47 175.23L211.68 172.49A96.2 96.2 0 0 0 212.31 171.14Z" fill="#000000" stroke="#333" stroke-width="0.22"/>
<path d="M217.13 175.95A102.6 102.6 0 0 1 216.82 176.58L211.07 173.76A96.2 96.2 0 0 0 211.36 173.17Z" fill="#9a9a9a" stroke="#333" stroke-width="0.22"/>
<path d="M215.1 179.92A102.6 102.6 0 0 1 196.06 205.12L191.61 200.52A96.2 96.2 0 0 0 209.47 176.89Z" fill="#efefef"/>
<path d="M214.9 180.29A102.6 102.6 0 0 1 214.73 180.6L209.12 177.53A96.2 96.2 0 0 0 209.28 177.24Z" fill="#9a9a9a" stroke="#333" stroke-width="0.22"/>
<path d="M214.47 181.07A102.6 102.6 0 0 1 214.16 181.64L208.58 178.5A96.2 96.2 0 0 0 208.87 177.97Z" fill="#666666" stroke="#333" stroke-width="0.22"/>
<path d="M214.07 181.8A102.6 102.6 0 0 1 213.9 182.09L208.34 178.93A96.2 96.2 0 0 0 208.49 178.66Z" fill="#9a9a9a" stroke="#333" stroke-width="0.22"/>
<path d="M213.74 182.38A102.6 102.6 0 0 1 212.8 183.98L207.31 180.7A96.2 96.2 0 0 0 208.18 179.2Z" fill="#363636" stroke="#333" stroke-width="0.22"/>
<path d="M212.63 184.27A102.6 102.6 0 0 1 212.31 184.81L206.84 181.47A96.2 96.2 0 0 0 207.15 180.97Z" fill="#666666" stroke="#333" stroke-width="0.22"/>
<path d="M212.14 185.07A102.6 102.6 0 0 1 212 185.29L206.56 181.93A96.2 96.2 0 0 0 206.69 181.73Z" fill="#9a9a9a" stroke="#333" stroke-width="0.22"/>
<path d="M211.7 185.78A102.6 102.6 0 0 1 211.32 186.39L205.91 182.96A96.2 96.2 0 0 0 206.27 182.39Z" fill="#9a9a9a" stroke="#333" stroke-width="0.22"/>
<path d="M210.75 187.28A102.6 102.6 0 0 1 210.18 188.15L204.84 184.61A96.2 96.2 0 0 0 205.38 183.8Z" fill="#000000" stroke="#333" stroke-width="0.22"/>
<path d="M210.06 188.32A102.6 102.6 0 0 1 209.64 188.95L204.34 185.36A96.2 96.2 0 0 0 204.74 184.77Z" fill="#000000" stroke="#333" stroke-width="0.22"/>
<path d="M209.46 189.21A102.6 102.6 0 0 1 208.98 189.91L203.72 186.26A96.2 96.2 0 0 0 204.17 185.61Z" fill="#c89494" stroke="#333" stroke-width="0.22"/>
<path d="M208.97 189.93A102.6 102.6 0 0 1 208.26 190.93L203.05 187.22A96.2 96.2 0 0 0 203.71 186.28Z" fill="#000000" stroke="#333" stroke-width="0.22"/>
<path d="M207.62 191.82A102.6 102.6 0 0 1 206.74 193.01L201.63 189.17A96.2 96.2 0 0 0 202.45 188.05Z" fill="#666666" stroke="#333" stroke-width="0.22"/>
<path d="M206.63 193.16A102.6 102.6 0 0 1 206.28 193.62L201.2 189.73A96.2 96.2 0 0 0 201.52 189.31Z" fill="#666666" stroke="#333" stroke-width="0.22"/>
<path d="M205.71 194.36A102.6 102.6 0 0 1 204.97 195.3L199.97 191.31A96.2 96.2 0 0 0 200.65 190.44Z" fill="#000000" stroke="#333" stroke-width="0.22"/>
<path d="M204.85 195.46A102.6 102.6 0 0 1 204.28 196.16L199.31 192.12A96.2 96.2 0 0 0 199.85 191.46Z" fill="#000000" stroke="#333" stroke-width="0.22"/>
<path d="M203.2 197.46A102.6 102.6 0 0 1 202.76 197.99L197.89 193.83A96.2 96.2 0 0 0 198.31 193.34Z" fill="#363636" stroke="#333" stroke-width="0.22"/>
<path d="M202.75 198A102.6 102.6 0 0 1 201.93 198.94L197.12 194.73A96.2 96.2 0 0 0 197.88 193.85Z" fill="#000000" stroke="#333" stroke-width="0.22"/>
<path d="M201.81 199.08A102.6 102.6 0 0 1 201.69 199.22L196.89 194.99A96.2 96.2 0 0 0 197 194.86Z" fill="#363636" stroke="#333" stroke-width="0.22"/>
<path d="M201.3 199.66A102.6 102.6 0 0 1 201.19 199.79L196.41 195.52A96.2 96.2 0 0 0 196.52 195.4Z" fill="#666666" stroke="#333" stroke-width="0.22"/>
<path d="M200.69 200.34A102.6 102.6 0 0 1 200.21 200.86L195.5 196.52A96.2 96.2 0 0 0 195.95 196.04Z" fill="#363636" stroke="#333" stroke-width="0.22"/>
<path d="M200.05 201.03A102.6 102.6 0 0 1 199.46 201.67L194.79 197.29A96.2 96.2 0 0 0 195.35 196.69Z" fill="#363636" stroke="#333" stroke-width="0.22"/>
<path d="M198.95 202.21A102.6 102.6 0 0 1 198.5 202.68L193.9 198.23A96.2 96.2 0 0 0 194.32 197.79Z" fill="#666666" stroke="#333" stroke-width="0.22"/>
<path d="M198.11 203.08A102.6 102.6 0 0 1 197.4 203.8L192.86 199.29A96.2 96.2 0 0 0 193.53 198.61Z" fill="#666666" stroke="#333" stroke-width="0.22"/>
<path d="M193.91 207.14A102.6 102.6 0 0 1 169.6 223.65L166.8 217.9A96.2 96.2 0 0 0 189.59 202.42Z" fill="#efefef"/>
<path d="M193.53 207.49A102.6 102.6 0 0 1 193.29 207.7L189.01 202.94A96.2 96.2 0 0 0 189.23 202.74Z" fill="#9a9a9a" stroke="#333" stroke-width="0.22"/>
<path d="M192.91 208.05A102.6 102.6 0 0 1 192 208.84L187.8 204.01A96.2 96.2 0 0 0 188.65 203.27Z" fill="#000000" stroke="#333" stroke-width="0.22"/>
<path d="M191.62 209.17A102.6 102.6 0 0 1 191 209.7L186.87 204.82A96.2 96.2 0 0 0 187.45 204.32Z" fill="#000000" stroke="#333" stroke-width="0.22"/>
<path d="M190.35 210.25A102.6 102.6 0 0 1 189.99 210.54L185.92 205.61A96.2 96.2 0 0 0 186.25 205.33Z" fill="#666666" stroke="#333" stroke-width="0.22"/>
<path d="M189.88 210.64A102.6 102.6 0 0 1 188.99 211.36L184.98 206.37A96.2 96.2 0 0 0 185.81 205.69Z" fill="#363636" stroke="#333" stroke-width="0.22"/>
<path d="M188.67 211.62A102.6 102.6 0 0 1 187.78 212.32L183.85 207.27A96.2 96.2 0 0 0 184.68 206.61Z" fill="#363636" stroke="#333" stroke-width="0.22"/>
<path d="M187.47 212.56A102.6 102.6 0 0 1 186.94 212.96L183.06 207.88A96.2 96.2 0 0 0 183.56 207.49Z" fill="#363636" stroke="#333" stroke-width="0.22"/>
<path d="M186.72 213.13A102.6 102.6 0 0 1 186.2 213.52L182.37 208.4A96.2 96.2 0 0 0 182.85 208.03Z" fill="#363636" stroke="#333" stroke-width="0.22"/>
<path d="M185.61 213.96A102.6 102.6 0 0 1 185.06 214.37L181.29 209.19A96.2 96.2 0 0 0 181.81 208.81Z" fill="#c89494" stroke="#333" stroke-width="0.22"/>
<path d="M184.26 214.94A102.6 102.6 0 0 1 183.47 215.5L179.81 210.25A96.2 96.2 0 0 0 180.54 209.73Z" fill="#666666" stroke="#333" stroke-width="0.22"/>
<path d="M182.66 216.06A102.6 102.6 0 0 1 181.3 216.98L177.77 211.64A96.2 96.2 0 0 0 179.05 210.78Z" fill="#000000" stroke="#333" stroke-width="0.22"/>
<path d="M181.02 217.16A102.6 102.6 0 0 1 180.57 217.46L177.08 212.09A96.2 96.2 0 0 0 177.5 211.81Z" fill="#363636" stroke="#333" stroke-width="0.22"/>
<path d="M180.3 217.63A102.6 102.6 0 0 1 179.49 218.15L176.07 212.73A96.2 96.2 0 0 0 176.83 212.25Z" fill="#363636" stroke="#333" stroke-width="0.22"/>
<path d="M178.58 218.72A102.6 102.6 0 0 1 178.47 218.78L175.11 213.33A96.2 96.2 0 0 0 175.22 213.27Z" fill="#666666" stroke="#333" stroke-width="0.22"/>
<path d="M178.01 219.06A102.6 102.6 0 0 1 176.86 219.75L173.61 214.24A96.2 96.2 0 0 0 174.68 213.6Z" fill="#363636" stroke="#333" stroke-width="0.22"/>
<path d="M176.42 220.01A102.6 102.6 0 0 1 175.82 220.36L172.63 214.81A96.2 96.2 0 0 0 173.19 214.48Z" fill="#363636" stroke="#333" stroke-width="0.22"/>
<path d="M175.39 220.6A102.6 102.6 0 0 1 174.86 220.9L171.73 215.32A96.2 96.2 0 0 0 172.23 215.04Z" fill="#363636" stroke="#333" stroke-width="0.22"/>
<path d="M174.52 221.09A102.6 102.6 0 0 1 174.32 221.2L171.23 215.6A96.2 96.2 0 0 0 171.41 215.5Z" fill="#9a9a9a" stroke="#333" stroke-width="0.22"/>
<path d="M173.96 221.4A102.6 102.6 0 0 1 173.05 221.89L170.04 216.25A96.2 96.2 0 0 0 170.89 215.78Z" fill="#666666" stroke="#333" stroke-width="0.22"/>
<path d="M172.25 222.32A102.6 102.6 0 0 1 171.46 222.73L168.54 217.03A96.2 96.2 0 0 0 169.28 216.65Z" fill="#363636" stroke="#333" stroke-width="0.22"/>
<path d="M170.68 223.12A102.6 102.6 0 0 1 170.27 223.33L167.42 217.59A96.2 96.2 0 0 0 167.81 217.4Z" fill="#9a9a9a" stroke="#333" stroke-width="0.22"/>
<path d="M166.93 224.91A102.6 102.6 0 0 1 141.02 232.69L140 226.38A96.2 96.2 0 0 0 164.29 219.07Z" fill="#efefef"/>
<path d="M166.55 225.07A102.6 102.6 0 0 1 165.88 225.37L163.31 219.51A96.2 96.2 0 0 0 163.94 219.23Z" fill="#363636" stroke="#333" stroke-width="0.22"/>
<path d="M164.77 225.85A102.6 102.6 0 0 1 163.69 226.3L161.26 220.38A96.2 96.2 0 0 0 162.27 219.96Z" fill="#000000" stroke="#333" stroke-width="0.22"/>
<path d="M162.95 226.6A102.6 102.6 0 0 1 162.25 226.88L159.91 220.93A96.2 96.2 0 0 0 160.57 220.66Z" fill="#666666" stroke="#333" stroke-width="0.22"/>
<path d="M162.01 226.98A102.6 102.6 0 0 1 160.67 227.49L158.43 221.49A96.2 96.2 0 0 0 159.68 221.02Z" fill="#363636" stroke="#333" stroke-width="0.22"/>
<path d="M160.36 227.6A102.6 102.6 0 0 1 160.12 227.69L157.91 221.69A96.2 96.2 0 0 0 158.14 221.6Z" fill="#9a9a9a" stroke="#333" stroke-width="0.22"/>
<path d="M159.53 227.91A102.6 102.6 0 0 1 158.65 228.22L156.53 222.18A96.2 96.2 0 0 0 157.35 221.89Z" fill="#c89494" stroke="#333" stroke-width="0.22"/>
<path d="M157.93 228.47A102.6 102.6 0 0 1 157.86 228.49L155.8 222.44A96.2 96.2 0 0 0 155.86 222.41Z" fill="#363636" stroke="#333" stroke-width="0.22"/>
<path d="M157.36 228.66A102.6 102.6 0 0 1 156.28 229.02L154.31 222.93A96.2 96.2 0 0 0 155.32 222.6Z" fill="#666666" stroke="#333" stroke-width="0.22"/>
<path d="M156.18 229.05A102.6 102.6 0 0 1 155.5 229.27L153.58 223.16A96.2 96.2 0 0 0 154.21 222.96Z" fill="#666666" stroke="#333" stroke-width="0.22"/>
<path d="M155.15 229.38A102.6 102.6 0 0 1 154.71 229.51L152.84 223.39A96.2 96.2 0 0 0 153.25 223.27Z" fill="#666666" stroke="#333" stroke-width="0.22"/>
<path d="M154.1 229.7A102.6 102.6 0 0 1 153.32 229.93L151.54 223.78A96.2 96.2 0 0 0 152.27 223.56Z" fill="#000000" stroke="#333" stroke-width="0.22"/>
<path d="M153 230.02A102.6 102.6 0 0 1 152.2 230.25L150.48 224.08A96.2 96.2 0 0 0 151.24 223.87Z" fill="#363636" stroke="#333" stroke-width="0.22"/>
<path d="M151.79 230.36A102.6 102.6 0 0 1 150.64 230.67L149.02 224.47A96.2 96.2 0 0 0 150.1 224.19Z" fill="#000000" stroke="#333" stroke-width="0.22"/>
<path d="M149.62 230.93A102.6 102.6 0 0 1 149.15 231.04L147.63 224.83A96.2 96.2 0 0 0 148.06 224.72Z" fill="#9a9a9a" stroke="#333" stroke-width="0.22"/>
<path d="M148.32 231.24A102.6 102.6 0 0 1 147.55 231.42L146.12 225.18A96.2 96.2 0 0 0 146.85 225.02Z" fill="#363636" stroke="#333" stroke-width="0.22"/>
<path d="M147.26 231.49A102.6 102.6 0 0 1 146.24 231.71L144.9 225.46A96.2 96.2 0 0 0 145.85 225.25Z" fill="#000000" stroke="#333" stroke-width="0.22"/>
<path d="M145.97 231.77A102.6 102.6 0 0 1 145.37 231.9L144.08 225.63A96.2 96.2 0 0 0 144.64 225.51Z" fill="#666666" stroke="#333" stroke-width="0.22"/>
<path d="M144.5 232.07A102.6 102.6 0 0 1 143.74 232.22L142.55 225.93A96.2 96.2 0 0 0 143.27 225.79Z" fill="#666666" stroke="#333" stroke-width="0.22"/>
<path d="M142.84 232.38A102.6 102.6 0 0 1 142.2 232.5L141.11 226.19A96.2 96.2 0 0 0 141.71 226.08Z" fill="#363636" stroke="#333" stroke-width="0.22"/>
<path d="M138.09 233.12A102.6 102.6 0 0 1 111.99 233.21L112.79 226.86A96.2 96.2 0 0 0 137.26 226.78Z" fill="#efefef"/>
<path d="M137.69 233.17A102.6 102.6 0 0 1 137.25 233.23L136.46 226.88A96.2 96.2 0 0 0 136.88 226.83Z" fill="#9a9a9a" stroke="#333" stroke-width="0.22"/>
<path d="M136.44 233.33A102.6 102.6 0 0 1 135.48 233.43L134.81 227.07A96.2 96.2 0 0 0 135.71 226.97Z" fill="#363636" stroke="#333" stroke-width="0.22"/>
<path d="M135.04 233.48A102.6 102.6 0 0 1 134.69 233.51L134.06 227.14A96.2 96.2 0 0 0 134.39 227.11Z" fill="#9a9a9a" stroke="#333" stroke-width="0.22"/>
<path d="M134.43 233.54A102.6 102.6 0 0 1 133.38 233.63L132.83 227.26A96.2 96.2 0 0 0 133.82 227.17Z" fill="#000000" stroke="#333" stroke-width="0.22"/>
<path d="M132.93 233.67A102.6 102.6 0 0 1 131.97 233.74L131.52 227.36A96.2 96.2 0 0 0 132.42 227.29Z" fill="#000000" stroke="#333" stroke-width="0.22"/>
<path d="M131.4 233.78A102.6 102.6 0 0 1 131.01 233.81L130.62 227.42A96.2 96.2 0 0 0 130.98 227.39Z" fill="#9a9a9a" stroke="#333" stroke-width="0.22"/>
<path d="M130.53 233.83A102.6 102.6 0 0 1 130.05 233.86L129.71 227.47A96.2 96.2 0 0 0 130.17 227.44Z" fill="#e8e2e4" stroke="#333" stroke-width="0.22"/>
<path d="M129.36 233.89A102.6 102.6 0 0 1 128.73 233.92L128.48 227.53A96.2 96.2 0 0 0 129.07 227.5Z" fill="#c89494" stroke="#333" stroke-width="0.22"/>
<path d="M128.73 233.92A102.6 102.6 0 0 1 125.92 233.99L125.84 227.59A96.2 96.2 0 0 0 128.48 227.53Z" fill="#e8e2e4" stroke="#333" stroke-width="0.22"/>
<path d="M125.4 234A102.6 102.6 0 0 1 124.75 234L124.75 227.6A96.2 96.2 0 0 0 125.35 227.6Z" fill="#9a9a9a" stroke="#333" stroke-width="0.22"/>
<path d="M124.42 234A102.6 102.6 0 0 1 123.45 233.99L123.53 227.59A96.2 96.2 0 0 0 124.43 227.6Z" fill="#666666" stroke="#333" stroke-width="0.22"/>
<path d="M123.1 233.99A102.6 102.6 0 0 1 122.54 233.98L122.68 227.58A96.2 96.2 0 0 0 123.2 227.59Z" fill="#666666" stroke="#333" stroke-width="0.22"/>
<path d="M122.03 233.97A102.6 102.6 0 0 1 121.38 233.95L121.58 227.55A96.2 96.2 0 0 0 122.19 227.57Z" fill="#666666" stroke="#333" stroke-width="0.22"/>
<path d="M121.12 233.94A102.6 102.6 0 0 1 120.73 233.92L120.98 227.53A96.2 96.2 0 0 0 121.34 227.54Z" fill="#9a9a9a" stroke="#333" stroke-width="0.22"/>
<path d="M120.23 233.9A102.6 102.6 0 0 1 119.73 233.88L120.04 227.49A96.2 96.2 0 0 0 120.51 227.51Z" fill="#9a9a9a" stroke="#333" stroke-width="0.22"/>
<path d="M119.12 233.85A102.6 102.6 0 0 1 118.08 233.79L118.49 227.4A96.2 96.2 0 0 0 119.47 227.46Z" fill="#000000" stroke="#333" stroke-width="0.22"/>
<path d="M117.51 233.75A102.6 102.6 0 0 1 116.84 233.7L117.33 227.32A96.2 96.2 0 0 0 117.96 227.36Z" fill="#9a9a9a" stroke="#333" stroke-width="0.22"/>
<path d="M116.33 233.66A102.6 102.6 0 0 1 115.44 233.58L116.02 227.21A96.2 96.2 0 0 0 116.85 227.28Z" fill="#000000" stroke="#333" stroke-width="0.22"/>
<path d="M114.83 233.52A102.6 102.6 0 0 1 114 233.44L114.67 227.08A96.2 96.2 0 0 0 115.45 227.15Z" fill="#9a9a9a" stroke="#333" stroke-width="0.22"/>
<path d="M113.41 233.38A102.6 102.6 0 0 1 113.32 233.37L114.03 227.01A96.2 96.2 0 0 0 114.12 227.02Z" fill="#9a9a9a" stroke="#333" stroke-width="0.22"/>
<path d="M112.97 233.33A102.6 102.6 0 0 1 112.69 233.29L113.44 226.94A96.2 96.2 0 0 0 113.7 226.97Z" fill="#9a9a9a" stroke="#333" stroke-width="0.22"/>
<path d="M109.07 232.8A102.6 102.6 0 0 1 84.96 225.99L87.44 220.09A96.2 96.2 0 0 0 110.04 226.48Z" fill="#efefef"/>
<path d="M108.52 232.72A102.6 102.6 0 0 1 108.37 232.69L109.39 226.37A96.2 96.2 0 0 0 109.53 226.4Z" fill="#9a9a9a" stroke="#333" stroke-width="0.22"/>
<path d="M107.86 232.61A102.6 102.6 0 0 1 106.84 232.43L107.95 226.13A96.2 96.2 0 0 0 108.91 226.3Z" fill="#363636" stroke="#333" stroke-width="0.22"/>
<path d="M105.91 232.26A102.6 102.6 0 0 1 105.67 232.22L106.86 225.93A96.2 96.2 0 0 0 107.08 225.97Z" fill="#363636" stroke="#333" stroke-width="0.22"/>
<path d="M105.65 232.22A102.6 102.6 0 0 1 104.94 232.08L106.17 225.8A96.2 96.2 0 0 0 106.84 225.93Z" fill="#363636" stroke="#333" stroke-width="0.22"/>
<path d="M104.58 232.01A102.6 102.6 0 0 1 103.67 231.82L104.98 225.56A96.2 96.2 0 0 0 105.83 225.73Z" fill="#666666" stroke="#333" stroke-width="0.22"/>
<path d="M103.36 231.76A102.6 102.6 0 0 1 102.8 231.64L104.17 225.38A96.2 96.2 0 0 0 104.69 225.5Z" fill="#9a9a9a" stroke="#333" stroke-width="0.22"/>
<path d="M102.15 231.49A102.6 102.6 0 0 1 101.37 231.31L102.83 225.08A96.2 96.2 0 0 0 103.56 225.25Z" fill="#c89494" stroke="#333" stroke-width="0.22"/>
<path d="M100.69 231.15A102.6 102.6 0 0 1 100 230.98L101.54 224.77A96.2 96.2 0 0 0 102.18 224.93Z" fill="#9a9a9a" stroke="#333" stroke-width="0.22"/>
<path d="M99.46 230.85A102.6 102.6 0 0 1 97.98 230.46L99.64 224.28A96.2 96.2 0 0 0 101.04 224.64Z" fill="#000000" stroke="#333" stroke-width="0.22"/>
<path d="M97.39 230.3A102.6 102.6 0 0 1 96.3 229.99L98.07 223.84A96.2 96.2 0 0 0 99.09 224.13Z" fill="#000000" stroke="#333" stroke-width="0.22"/>
<path d="M95.53 229.77A102.6 102.6 0 0 1 95.03 229.62L96.89 223.49A96.2 96.2 0 0 0 97.35 223.63Z" fill="#666666" stroke="#333" stroke-width="0.22"/>
<path d="M94.27 229.38A102.6 102.6 0 0 1 93.23 229.05L95.19 222.96A96.2 96.2 0 0 0 96.17 223.27Z" fill="#000000" stroke="#333" stroke-width="0.22"/>
<path d="M92.95 228.96A102.6 102.6 0 0 1 92.35 228.77L94.37 222.69A96.2 96.2 0 0 0 94.93 222.88Z" fill="#363636" stroke="#333" stroke-width="0.22"/>
<path d="M92.14 228.7A102.6 102.6 0 0 1 91.63 228.52L93.69 222.47A96.2 96.2 0 0 0 94.17 222.63Z" fill="#666666" stroke="#333" stroke-width="0.22"/>
<path d="M91.23 228.39A102.6 102.6 0 0 1 90.77 228.23L92.89 222.19A96.2 96.2 0 0 0 93.31 222.34Z" fill="#666666" stroke="#333" stroke-width="0.22"/>
<path d="M90.58 228.16A102.6 102.6 0 0 1 90.25 228.04L92.4 222.01A96.2 96.2 0 0 0 92.71 222.12Z" fill="#9a9a9a" stroke="#333" stroke-width="0.22"/>
<path d="M90.09 227.99A102.6 102.6 0 0 1 89.03 227.6L91.25 221.6A96.2 96.2 0 0 0 92.25 221.96Z" fill="#000000" stroke="#333" stroke-width="0.22"/>
<path d="M88.51 227.4A102.6 102.6 0 0 1 87.78 227.13L90.08 221.16A96.2 96.2 0 0 0 90.76 221.42Z" fill="#363636" stroke="#333" stroke-width="0.22"/>
<path d="M87.33 226.95A102.6 102.6 0 0 1 87.09 226.86L89.43 220.9A96.2 96.2 0 0 0 89.66 220.99Z" fill="#666666" stroke="#333" stroke-width="0.22"/>
<path d="M86.33 226.56A102.6 102.6 0 0 1 85.8 226.34L88.23 220.42A96.2 96.2 0 0 0 88.72 220.62Z" fill="#666666" stroke="#333" stroke-width="0.22"/>
<path d="M82.25 224.81A102.6 102.6 0 0 1 60.95 211.79L64.93 206.78A96.2 96.2 0 0 0 84.9 218.98Z" fill="#efefef"/>
<path d="M81.78 224.59A102.6 102.6 0 0 1 80.46 223.97L83.22 218.2A96.2 96.2 0 0 0 84.46 218.78Z" fill="#666666" stroke="#333" stroke-width="0.22"/>
<path d="M80.12 223.81A102.6 102.6 0 0 1 79.54 223.53L82.35 217.78A96.2 96.2 0 0 0 82.9 218.05Z" fill="#666666" stroke="#333" stroke-width="0.22"/>
<path d="M78.62 223.07A102.6 102.6 0 0 1 77.9 222.7L80.82 217.01A96.2 96.2 0 0 0 81.5 217.35Z" fill="#000000" stroke="#333" stroke-width="0.22"/>
<path d="M77.72 222.61A102.6 102.6 0 0 1 77.09 222.29L80.06 216.62A96.2 96.2 0 0 0 80.65 216.92Z" fill="#363636" stroke="#333" stroke-width="0.22"/>
<path d="M76.21 221.82A102.6 102.6 0 0 1 75.05 221.19L78.15 215.59A96.2 96.2 0 0 0 79.23 216.18Z" fill="#000000" stroke="#333" stroke-width="0.22"/>
<path d="M74.19 220.71A102.6 102.6 0 0 1 73.74 220.45L76.92 214.9A96.2 96.2 0 0 0 77.34 215.14Z" fill="#363636" stroke="#333" stroke-width="0.22"/>
<path d="M73.74 220.45A102.6 102.6 0 0 1 73.08 220.07L76.3 214.54A96.2 96.2 0 0 0 76.92 214.9Z" fill="#c89494" stroke="#333" stroke-width="0.22"/>
<path d="M73.08 220.07A102.6 102.6 0 0 1 72.41 219.68L75.67 214.17A96.2 96.2 0 0 0 76.3 214.54Z" fill="#363636" stroke="#333" stroke-width="0.22"/>
<path d="M72.13 219.51A102.6 102.6 0 0 1 71.86 219.34L75.15 213.86A96.2 96.2 0 0 0 75.41 214.01Z" fill="#9a9a9a" stroke="#333" stroke-width="0.22"/>
<path d="M71.46 219.11A102.6 102.6 0 0 1 71.06 218.86L74.41 213.41A96.2 96.2 0 0 0 74.78 213.63Z" fill="#9a9a9a" stroke="#333" stroke-width="0.22"/>
<path d="M70.75 218.67A102.6 102.6 0 0 1 69.99 218.2L73.41 212.78A96.2 96.2 0 0 0 74.11 213.23Z" fill="#666666" stroke="#333" stroke-width="0.22"/>
<path d="M69.7 218.01A102.6 102.6 0 0 1 68.37 217.16L71.89 211.81A96.2 96.2 0 0 0 73.13 212.61Z" fill="#000000" stroke="#333" stroke-width="0.22"/>
<path d="M67.96 216.88A102.6 102.6 0 0 1 67.26 216.42L70.85 211.11A96.2 96.2 0 0 0 71.49 211.55Z" fill="#000000" stroke="#333" stroke-width="0.22"/>
<path d="M66.59 215.96A102.6 102.6 0 0 1 65.84 215.44L69.51 210.2A96.2 96.2 0 0 0 70.21 210.68Z" fill="#000000" stroke="#333" stroke-width="0.22"/>
<path d="M65.72 215.35A102.6 102.6 0 0 1 64.59 214.55L68.34 209.36A96.2 96.2 0 0 0 69.4 210.12Z" fill="#000000" stroke="#333" stroke-width="0.22"/>
<path d="M64.27 214.32A102.6 102.6 0 0 1 63.97 214.1L67.76 208.94A96.2 96.2 0 0 0 68.04 209.15Z" fill="#666666" stroke="#333" stroke-width="0.22"/>
<path d="M62.98 213.36A102.6 102.6 0 0 1 62.58 213.06L66.45 207.96A96.2 96.2 0 0 0 66.83 208.25Z" fill="#666666" stroke="#333" stroke-width="0.22"/>
<path d="M62.01 212.62A102.6 102.6 0 0 1 61.57 212.28L65.5 207.23A96.2 96.2 0 0 0 65.92 207.55Z" fill="#666666" stroke="#333" stroke-width="0.22"/>
<path d="M58.67 209.93A102.6 102.6 0 0 1 41.78 191.82L46.95 188.05A96.2 96.2 0 0 0 62.79 205.03Z" fill="#efefef"/>
<path d="M58.2 209.53A102.6 102.6 0 0 1 57.9 209.28L62.07 204.42A96.2 96.2 0 0 0 62.35 204.66Z" fill="#9a9a9a" stroke="#333" stroke-width="0.22"/>
<path d="M57.24 208.71A102.6 102.6 0 0 1 56.87 208.38L61.1 203.58A96.2 96.2 0 0 0 61.45 203.89Z" fill="#363636" stroke="#333" stroke-width="0.22"/>
<path d="M56.59 208.13A102.6 102.6 0 0 1 55.87 207.49L60.17 202.74A96.2 96.2 0 0 0 60.84 203.35Z" fill="#000000" stroke="#333" stroke-width="0.22"/>
<path d="M55.69 207.33A102.6 102.6 0 0 1 54.98 206.68L59.33 201.98A96.2 96.2 0 0 0 60 202.59Z" fill="#000000" stroke="#333" stroke-width="0.22"/>
<path d="M54.81 206.51A102.6 102.6 0 0 1 54.41 206.14L58.8 201.48A96.2 96.2 0 0 0 59.17 201.83Z" fill="#666666" stroke="#333" stroke-width="0.22"/>
<path d="M54.06 205.81A102.6 102.6 0 0 1 53.41 205.19L57.86 200.58A96.2 96.2 0 0 0 58.47 201.17Z" fill="#c89494" stroke="#333" stroke-width="0.22"/>
<path d="M53.41 205.19A102.6 102.6 0 0 1 52.32 204.12L56.84 199.59A96.2 96.2 0 0 0 57.86 200.58Z" fill="#000000" stroke="#333" stroke-width="0.22"/>
<path d="M51.97 203.77A102.6 102.6 0 0 1 51.66 203.45L56.21 198.96A96.2 96.2 0 0 0 56.51 199.25Z" fill="#9a9a9a" stroke="#333" stroke-width="0.22"/>
<path d="M51.22 203A102.6 102.6 0 0 1 51 202.78L55.59 198.32A96.2 96.2 0 0 0 55.8 198.54Z" fill="#9a9a9a" stroke="#333" stroke-width="0.22"/>
<path d="M50.8 202.58A102.6 102.6 0 0 1 50.16 201.91L54.81 197.51A96.2 96.2 0 0 0 55.41 198.14Z" fill="#363636" stroke="#333" stroke-width="0.22"/>
<path d="M49.91 201.64A102.6 102.6 0 0 1 49.58 201.28L54.27 196.92A96.2 96.2 0 0 0 54.57 197.25Z" fill="#666666" stroke="#333" stroke-width="0.22"/>
<path d="M49.1 200.77A102.6 102.6 0 0 1 48.58 200.19L53.33 195.9A96.2 96.2 0 0 0 53.82 196.44Z" fill="#363636" stroke="#333" stroke-width="0.22"/>
<path d="M48.01 199.56A102.6 102.6 0 0 1 47.23 198.66L52.06 194.47A96.2 96.2 0 0 0 52.79 195.3Z" fill="#000000" stroke="#333" stroke-width="0.22"/>
<path d="M46.95 198.34A102.6 102.6 0 0 1 46.51 197.84L51.39 193.69A96.2 96.2 0 0 0 51.8 194.17Z" fill="#000000" stroke="#333" stroke-width="0.22"/>
<path d="M46.08 197.33A102.6 102.6 0 0 1 45.44 196.56L50.39 192.49A96.2 96.2 0 0 0 50.99 193.21Z" fill="#363636" stroke="#333" stroke-width="0.22"/>
<path d="M45.19 196.24A102.6 102.6 0 0 1 44.58 195.49L49.58 191.49A96.2 96.2 0 0 0 50.15 192.2Z" fill="#666666" stroke="#333" stroke-width="0.22"/>
<path d="M44.27 195.1A102.6 102.6 0 0 1 44.2 195.01L49.22 191.04A96.2 96.2 0 0 0 49.29 191.13Z" fill="#9a9a9a" stroke="#333" stroke-width="0.22"/>
<path d="M43.97 194.72A102.6 102.6 0 0 1 43.24 193.78L48.32 189.89A96.2 96.2 0 0 0 49.01 190.77Z" fill="#666666" stroke="#333" stroke-width="0.22"/>
<path d="M42.66 193.01A102.6 102.6 0 0 1 42.28 192.51L47.42 188.7A96.2 96.2 0 0 0 47.78 189.17Z" fill="#666666" stroke="#333" stroke-width="0.22"/>
<path d="M40.07 189.41A102.6 102.6 0 0 1 29.91 170.67L35.83 168.22A96.2 96.2 0 0 0 45.35 185.79Z" fill="#efefef"/>
<path d="M40.07 189.41A102.6 102.6 0 0 1 39.6 188.72L44.91 185.14A96.2 96.2 0 0 0 45.35 185.79Z" fill="#e8e2e4" stroke="#333" stroke-width="0.22"/>
<path d="M39.6 188.72A102.6 102.6 0 0 1 39.04 187.87L44.38 184.35A96.2 96.2 0 0 0 44.91 185.14Z" fill="#a8aec4" stroke="#333" stroke-width="0.22"/>
<path d="M39.04 187.87A102.6 102.6 0 0 1 38.4 186.89L43.79 183.43A96.2 96.2 0 0 0 44.38 184.35Z" fill="#e8e2e4" stroke="#333" stroke-width="0.22"/>
<path d="M38.4 186.89A102.6 102.6 0 0 1 38.08 186.39L43.49 182.96A96.2 96.2 0 0 0 43.79 183.43Z" fill="#c89494" stroke="#333" stroke-width="0.22"/>
<path d="M37.71 185.8A102.6 102.6 0 0 1 37.49 185.45L42.93 182.08A96.2 96.2 0 0 0 43.13 182.4Z" fill="#9a9a9a" stroke="#333" stroke-width="0.22"/>
<path d="M37.27 185.09A102.6 102.6 0 0 1 37.16 184.91L42.62 181.58A96.2 96.2 0 0 0 42.72 181.74Z" fill="#9a9a9a" stroke="#333" stroke-width="0.22"/>
<path d="M36.84 184.39A102.6 102.6 0 0 1 36.67 184.11L42.16 180.82A96.2 96.2 0 0 0 42.32 181.09Z" fill="#666666" stroke="#333" stroke-width="0.22"/>
<path d="M36.53 183.87A102.6 102.6 0 0 1 36.1 183.13L41.62 179.91A96.2 96.2 0 0 0 42.03 180.59Z" fill="#363636" stroke="#333" stroke-width="0.22"/>
<path d="M35.62 182.31A102.6 102.6 0 0 1 35.57 182.22L41.13 179.05A96.2 96.2 0 0 0 41.18 179.14Z" fill="#9a9a9a" stroke="#333" stroke-width="0.22"/>
<path d="M35.43 181.98A102.6 102.6 0 0 1 35.1 181.39L40.69 178.28A96.2 96.2 0 0 0 41 178.82Z" fill="#666666" stroke="#333" stroke-width="0.22"/>
<path d="M34.71 180.68A102.6 102.6 0 0 1 34.33 179.98L39.97 176.95A96.2 96.2 0 0 0 40.32 177.61Z" fill="#000000" stroke="#333" stroke-width="0.22"/>
<path d="M34.09 179.54A102.6 102.6 0 0 1 33.8 178.98L39.47 176.01A96.2 96.2 0 0 0 39.75 176.54Z" fill="#363636" stroke="#333" stroke-width="0.22"/>
<path d="M33.55 178.5A102.6 102.6 0 0 1 33.16 177.73L38.87 174.84A96.2 96.2 0 0 0 39.24 175.57Z" fill="#000000" stroke="#333" stroke-width="0.22"/>
<path d="M32.98 177.38A102.6 102.6 0 0 1 32.83 177.08L38.56 174.23A96.2 96.2 0 0 0 38.7 174.51Z" fill="#666666" stroke="#333" stroke-width="0.22"/>
<path d="M32.68 176.78A102.6 102.6 0 0 1 31.98 175.33L37.77 172.59A96.2 96.2 0 0 0 38.42 173.95Z" fill="#000000" stroke="#333" stroke-width="0.22"/>
<path d="M31.8 174.95A102.6 102.6 0 0 1 31.41 174.11L37.23 171.44A96.2 96.2 0 0 0 37.59 172.23Z" fill="#000000" stroke="#333" stroke-width="0.22"/>
<path d="M31.17 173.57A102.6 102.6 0 0 1 31.08 173.38L36.92 170.76A96.2 96.2 0 0 0 37 170.94Z" fill="#9a9a9a" stroke="#333" stroke-width="0.22"/>
<path d="M30.9 172.97A102.6 102.6 0 0 1 30.67 172.45L36.53 169.89A96.2 96.2 0 0 0 36.75 170.38Z" fill="#000000" stroke="#333" stroke-width="0.22"/>
<path d="M30.51 172.07A102.6 102.6 0 0 1 30.27 171.51L36.16 169.01A96.2 96.2 0 0 0 36.38 169.54Z" fill="#000000" stroke="#333" stroke-width="0.22"/>
<path d="M28.82 167.93A102.6 102.6 0 0 1 23.58 148.78L29.89 147.69A96.2 96.2 0 0 0 34.8 165.65Z" fill="#efefef"/>
<path d="M28.82 167.93A102.6 102.6 0 0 1 28.58 167.29L34.58 165.05A96.2 96.2 0 0 0 34.8 165.65Z" fill="#e8e2e4" stroke="#333" stroke-width="0.22"/>
<path d="M28.58 167.29A102.6 102.6 0 0 1 28.3 166.52L34.31 164.33A96.2 96.2 0 0 0 34.58 165.05Z" fill="#a8aec4" stroke="#333" stroke-width="0.22"/>
<path d="M28.3 166.52A102.6 102.6 0 0 1 27.81 165.14L33.85 163.04A96.2 96.2 0 0 0 34.31 164.33Z" fill="#e8e2e4" stroke="#333" stroke-width="0.22"/>
<path d="M27.81 165.14A102.6 102.6 0 0 1 27.62 164.6L33.68 162.53A96.2 96.2 0 0 0 33.85 163.04Z" fill="#c89494" stroke="#333" stroke-width="0.22"/>
<path d="M27.29 163.63A102.6 102.6 0 0 1 26.8 162.1L32.91 160.18A96.2 96.2 0 0 0 33.37 161.62Z" fill="#000000" stroke="#333" stroke-width="0.22"/>
<path d="M26.69 161.74A102.6 102.6 0 0 1 26.62 161.51L32.74 159.64A96.2 96.2 0 0 0 32.8 159.85Z" fill="#666666" stroke="#333" stroke-width="0.22"/>
<path d="M26.55 161.3A102.6 102.6 0 0 1 26.25 160.29L32.39 158.49A96.2 96.2 0 0 0 32.68 159.44Z" fill="#000000" stroke="#333" stroke-width="0.22"/>
<path d="M26.06 159.63A102.6 102.6 0 0 1 25.87 158.97L32.04 157.25A96.2 96.2 0 0 0 32.21 157.87Z" fill="#000000" stroke="#333" stroke-width="0.22"/>
<path d="M25.72 158.4A102.6 102.6 0 0 1 25.65 158.15L31.83 156.48A96.2 96.2 0 0 0 31.89 156.72Z" fill="#9a9a9a" stroke="#333" stroke-width="0.22"/>
<path d="M25.6 157.95A102.6 102.6 0 0 1 25.47 157.47L31.66 155.84A96.2 96.2 0 0 0 31.78 156.3Z" fill="#363636" stroke="#333" stroke-width="0.22"/>
<path d="M25.36 157.06A102.6 102.6 0 0 1 25.21 156.48L31.42 154.92A96.2 96.2 0 0 0 31.56 155.46Z" fill="#666666" stroke="#333" stroke-width="0.22"/>
<path d="M25.03 155.74A102.6 102.6 0 0 1 24.84 154.95L31.07 153.48A96.2 96.2 0 0 0 31.25 154.23Z" fill="#666666" stroke="#333" stroke-width="0.22"/>
<path d="M24.61 153.96A102.6 102.6 0 0 1 24.42 153.09L30.67 151.74A96.2 96.2 0 0 0 30.85 152.55Z" fill="#000000" stroke="#333" stroke-width="0.22"/>
<path d="M24.37 152.85A102.6 102.6 0 0 1 24.18 151.96L30.45 150.68A96.2 96.2 0 0 0 30.63 151.51Z" fill="#000000" stroke="#333" stroke-width="0.22"/>
<path d="M24.1 151.58A102.6 102.6 0 0 1 24 151.07L30.29 149.85A96.2 96.2 0 0 0 30.38 150.32Z" fill="#9a9a9a" stroke="#333" stroke-width="0.22"/>
<path d="M23.95 150.78A102.6 102.6 0 0 1 23.77 149.85L30.07 148.7A96.2 96.2 0 0 0 30.23 149.57Z" fill="#666666" stroke="#333" stroke-width="0.22"/>
<path d="M23.71 149.53A102.6 102.6 0 0 1 23.69 149.38L29.99 148.26A96.2 96.2 0 0 0 30.01 148.39Z" fill="#666666" stroke="#333" stroke-width="0.22"/>
<path d="M23.12 145.86A102.6 102.6 0 0 1 22.2 126.91L28.59 127.19A96.2 96.2 0 0 0 29.46 144.96Z" fill="#efefef"/>
<path d="M23.12 145.86A102.6 102.6 0 0 1 23.02 145.14L29.37 144.28A96.2 96.2 0 0 0 29.46 144.96Z" fill="#e8e2e4" stroke="#333" stroke-width="0.22"/>
<path d="M23.02 145.14A102.6 102.6 0 0 1 22.91 144.26L29.26 143.46A96.2 96.2 0 0 0 29.37 144.28Z" fill="#a8aec4" stroke="#333" stroke-width="0.22"/>
<path d="M22.91 144.26A102.6 102.6 0 0 1 22.75 142.95L29.11 142.23A96.2 96.2 0 0 0 29.26 143.46Z" fill="#e8e2e4" stroke="#333" stroke-width="0.22"/>
<path d="M22.75 142.95A102.6 102.6 0 0 1 22.65 142.05L29.02 141.39A96.2 96.2 0 0 0 29.11 142.23Z" fill="#c89494" stroke="#333" stroke-width="0.22"/>
<path d="M22.56 141.13A102.6 102.6 0 0 1 22.52 140.69L28.89 140.11A96.2 96.2 0 0 0 28.93 140.52Z" fill="#666666" stroke="#333" stroke-width="0.22"/>
<path d="M22.48 140.28A102.6 102.6 0 0 1 22.47 140.11L28.85 139.57A96.2 96.2 0 0 0 28.86 139.73Z" fill="#666666" stroke="#333" stroke-width="0.22"/>
<path d="M22.43 139.67A102.6 102.6 0 0 1 22.34 138.47L28.73 138.03A96.2 96.2 0 0 0 28.81 139.15Z" fill="#363636" stroke="#333" stroke-width="0.22"/>
<path d="M22.31 137.97A102.6 102.6 0 0 1 22.3 137.82L28.69 137.42A96.2 96.2 0 0 0 28.7 137.56Z" fill="#9a9a9a" stroke="#333" stroke-width="0.22"/>
<path d="M22.29 137.6A102.6 102.6 0 0 1 22.24 136.73L28.63 136.4A96.2 96.2 0 0 0 28.68 137.21Z" fill="#363636" stroke="#333" stroke-width="0.22"/>
<path d="M22.21 136.1A102.6 102.6 0 0 1 22.16 134.95L28.56 134.73A96.2 96.2 0 0 0 28.6 135.81Z" fill="#363636" stroke="#333" stroke-width="0.22"/>
<path d="M22.16 134.91A102.6 102.6 0 0 1 22.14 134.1L28.53 133.93A96.2 96.2 0 0 0 28.56 134.7Z" fill="#9a9a9a" stroke="#333" stroke-width="0.22"/>
<path d="M22.12 133.4A102.6 102.6 0 0 1 22.11 132.43L28.5 132.37A96.2 96.2 0 0 0 28.52 133.27Z" fill="#9a9a9a" stroke="#333" stroke-width="0.22"/>
<path d="M22.1 131.97A102.6 102.6 0 0 1 22.1 131.71L28.5 131.69A96.2 96.2 0 0 0 28.5 131.93Z" fill="#9a9a9a" stroke="#333" stroke-width="0.22"/>
<path d="M22.1 131.39A102.6 102.6 0 0 1 22.1 130.76L28.5 130.8A96.2 96.2 0 0 0 28.5 131.39Z" fill="#666666" stroke="#333" stroke-width="0.22"/>
<path d="M22.11 130.12A102.6 102.6 0 0 1 22.12 129.39L28.52 129.52A96.2 96.2 0 0 0 28.51 130.2Z" fill="#666666" stroke="#333" stroke-width="0.22"/>
<path d="M22.14 128.43A102.6 102.6 0 0 1 22.17 127.65L28.56 127.88A96.2 96.2 0 0 0 28.54 128.61Z" fill="#666666" stroke="#333" stroke-width="0.22"/>
<path d="M22.37 123.96A102.6 102.6 0 0 1 24.94 107.42L31.16 108.92A96.2 96.2 0 0 0 28.75 124.42Z" fill="#efefef"/>
<path d="M22.49 122.5A102.6 102.6 0 0 1 22.53 122.02L28.9 122.61A96.2 96.2 0 0 0 28.86 123.06Z" fill="#666666" stroke="#333" stroke-width="0.22"/>
<path d="M22.56 121.74A102.6 102.6 0 0 1 22.61 121.23L28.97 121.86A96.2 96.2 0 0 0 28.93 122.35Z" fill="#666666" stroke="#333" stroke-width="0.22"/>
<path d="M22.64 120.86A102.6 102.6 0 0 1 22.73 120.05L29.09 120.76A96.2 96.2 0 0 0 29.01 121.52Z" fill="#666666" stroke="#333" stroke-width="0.22"/>
<path d="M22.79 119.5A102.6 102.6 0 0 1 22.88 118.78L29.23 119.57A96.2 96.2 0 0 0 29.15 120.24Z" fill="#666666" stroke="#333" stroke-width="0.22"/>
<path d="M23.03 117.58A102.6 102.6 0 0 1 23.14 116.85L29.47 117.76A96.2 96.2 0 0 0 29.38 118.45Z" fill="#c89494" stroke="#333" stroke-width="0.22"/>
<path d="M23.14 116.85A102.6 102.6 0 0 1 23.37 115.31L29.69 116.31A96.2 96.2 0 0 0 29.47 117.76Z" fill="#e8e2e4" stroke="#333" stroke-width="0.22"/>
<path d="M23.54 114.29A102.6 102.6 0 0 1 23.67 113.54L29.97 114.65A96.2 96.2 0 0 0 29.85 115.35Z" fill="#666666" stroke="#333" stroke-width="0.22"/>
<path d="M23.69 113.41A102.6 102.6 0 0 1 24.01 111.71L30.29 112.94A96.2 96.2 0 0 0 29.99 114.53Z" fill="#000000" stroke="#333" stroke-width="0.22"/>
<path d="M24.15 110.97A102.6 102.6 0 0 1 24.23 110.59L30.5 111.89A96.2 96.2 0 0 0 30.43 112.24Z" fill="#666666" stroke="#333" stroke-width="0.22"/>
<path d="M24.28 110.37A102.6 102.6 0 0 1 24.48 109.45L30.73 110.82A96.2 96.2 0 0 0 30.54 111.68Z" fill="#363636" stroke="#333" stroke-width="0.22"/>
<path d="M24.58 108.99A102.6 102.6 0 0 1 24.68 108.54L30.92 109.97A96.2 96.2 0 0 0 30.82 110.39Z" fill="#666666" stroke="#333" stroke-width="0.22"/>
<path d="M24.8 108.02A102.6 102.6 0 0 1 24.87 107.73L31.1 109.21A96.2 96.2 0 0 0 31.03 109.48Z" fill="#9a9a9a" stroke="#333" stroke-width="0.22"/>
<path d="M25.67 104.56A102.6 102.6 0 0 1 30.66 90.37L36.53 92.93A96.2 96.2 0 0 0 31.85 106.23Z" fill="#efefef"/>
<path d="M25.83 103.97A102.6 102.6 0 0 1 25.99 103.4L32.15 105.15A96.2 96.2 0 0 0 32 105.68Z" fill="#666666" stroke="#333" stroke-width="0.22"/>
<path d="M26.21 102.65A102.6 102.6 0 0 1 26.49 101.71L32.62 103.56A96.2 96.2 0 0 0 32.35 104.44Z" fill="#363636" stroke="#333" stroke-width="0.22"/>
<path d="M26.83 100.61A102.6 102.6 0 0 1 27.03 99.98L33.12 101.94A96.2 96.2 0 0 0 32.93 102.53Z" fill="#c89494" stroke="#333" stroke-width="0.22"/>
<path d="M27.38 98.92A102.6 102.6 0 0 1 27.75 97.81L33.8 99.91A96.2 96.2 0 0 0 33.45 100.95Z" fill="#666666" stroke="#333" stroke-width="0.22"/>
<path d="M27.77 97.76A102.6 102.6 0 0 1 27.92 97.32L33.96 99.45A96.2 96.2 0 0 0 33.82 99.86Z" fill="#9a9a9a" stroke="#333" stroke-width="0.22"/>
<path d="M28.17 96.63A102.6 102.6 0 0 1 28.33 96.19L34.34 98.39A96.2 96.2 0 0 0 34.19 98.79Z" fill="#9a9a9a" stroke="#333" stroke-width="0.22"/>
<path d="M28.51 95.7A102.6 102.6 0 0 1 29 94.42L34.97 96.73A96.2 96.2 0 0 0 34.51 97.93Z" fill="#363636" stroke="#333" stroke-width="0.22"/>
<path d="M29.04 94.3A102.6 102.6 0 0 1 29.23 93.82L35.19 96.16A96.2 96.2 0 0 0 35.01 96.61Z" fill="#363636" stroke="#333" stroke-width="0.22"/>
<path d="M29.33 93.56A102.6 102.6 0 0 1 29.44 93.28L35.39 95.66A96.2 96.2 0 0 0 35.28 95.92Z" fill="#666666" stroke="#333" stroke-width="0.22"/>
<path d="M29.64 92.78A102.6 102.6 0 0 1 29.91 92.13L35.82 94.58A96.2 96.2 0 0 0 35.57 95.19Z" fill="#363636" stroke="#333" stroke-width="0.22"/>
<path d="M30.19 91.46A102.6 102.6 0 0 1 30.23 91.38L36.12 93.88A96.2 96.2 0 0 0 36.09 93.96Z" fill="#9a9a9a" stroke="#333" stroke-width="0.22"/>
<path d="M31.88 87.68A102.6 102.6 0 0 1 38.95 75.07L44.3 78.58A96.2 96.2 0 0 0 37.67 90.41Z" fill="#efefef"/>
<path d="M32.11 87.2A102.6 102.6 0 0 1 32.45 86.5L38.2 89.3A96.2 96.2 0 0 0 37.89 89.96Z" fill="#666666" stroke="#333" stroke-width="0.22"/>
<path d="M32.56 86.26A102.6 102.6 0 0 1 32.76 85.87L38.49 88.71A96.2 96.2 0 0 0 38.31 89.08Z" fill="#9a9a9a" stroke="#333" stroke-width="0.22"/>
<path d="M33.13 85.12A102.6 102.6 0 0 1 33.43 84.52L39.13 87.45A96.2 96.2 0 0 0 38.84 88.01Z" fill="#c89494" stroke="#333" stroke-width="0.22"/>
<path d="M33.95 83.54A102.6 102.6 0 0 1 34.62 82.28L40.24 85.34A96.2 96.2 0 0 0 39.61 86.52Z" fill="#000000" stroke="#333" stroke-width="0.22"/>
<path d="M35.02 81.55A102.6 102.6 0 0 1 35.6 80.53L41.16 83.71A96.2 96.2 0 0 0 40.62 84.66Z" fill="#363636" stroke="#333" stroke-width="0.22"/>
<path d="M36.03 79.78A102.6 102.6 0 0 1 36.56 78.88L42.06 82.16A96.2 96.2 0 0 0 41.56 83Z" fill="#363636" stroke="#333" stroke-width="0.22"/>
<path d="M36.79 78.5A102.6 102.6 0 0 1 37.06 78.06L42.52 81.39A96.2 96.2 0 0 0 42.27 81.8Z" fill="#666666" stroke="#333" stroke-width="0.22"/>
<path d="M37.31 77.65A102.6 102.6 0 0 1 37.82 76.83L43.24 80.23A96.2 96.2 0 0 0 42.76 81Z" fill="#000000" stroke="#333" stroke-width="0.22"/>
<path d="M38 76.53A102.6 102.6 0 0 1 38.44 75.84L43.82 79.31A96.2 96.2 0 0 0 43.41 79.95Z" fill="#9a9a9a" stroke="#333" stroke-width="0.22"/>
<path d="M40.61 72.62A102.6 102.6 0 0 1 47.35 63.99L52.17 68.2A96.2 96.2 0 0 0 45.85 76.29Z" fill="#efefef"/>
<path d="M41.35 71.58A102.6 102.6 0 0 1 42.11 70.53L47.26 74.32A96.2 96.2 0 0 0 46.54 75.31Z" fill="#9a9a9a" stroke="#333" stroke-width="0.22"/>
<path d="M42.12 70.51A102.6 102.6 0 0 1 42.37 70.17L47.51 73.99A96.2 96.2 0 0 0 47.27 74.31Z" fill="#9a9a9a" stroke="#333" stroke-width="0.22"/>
<path d="M42.78 69.62A102.6 102.6 0 0 1 43.28 68.97L48.36 72.87A96.2 96.2 0 0 0 47.89 73.48Z" fill="#e8e2e4" stroke="#333" stroke-width="0.22"/>
<path d="M43.28 68.97A102.6 102.6 0 0 1 43.75 68.36L48.8 72.29A96.2 96.2 0 0 0 48.36 72.87Z" fill="#c89494" stroke="#333" stroke-width="0.22"/>
<path d="M43.75 68.36A102.6 102.6 0 0 1 44.19 67.8L49.21 71.77A96.2 96.2 0 0 0 48.8 72.29Z" fill="#e8e2e4" stroke="#333" stroke-width="0.22"/>
<path d="M44.55 67.35A102.6 102.6 0 0 1 44.87 66.95L49.85 70.97A96.2 96.2 0 0 0 49.55 71.35Z" fill="#9a9a9a" stroke="#333" stroke-width="0.22"/>
<path d="M44.92 66.89A102.6 102.6 0 0 1 45.47 66.22L50.41 70.28A96.2 96.2 0 0 0 49.89 70.91Z" fill="#9a9a9a" stroke="#333" stroke-width="0.22"/>
<path d="M45.68 65.96A102.6 102.6 0 0 1 46.01 65.56L50.92 69.67A96.2 96.2 0 0 0 50.61 70.04Z" fill="#9a9a9a" stroke="#333" stroke-width="0.22"/>
<path d="M46.42 65.08A102.6 102.6 0 0 1 46.68 64.77L51.55 68.92A96.2 96.2 0 0 0 51.3 69.21Z" fill="#9a9a9a" stroke="#333" stroke-width="0.22"/>
<path d="M47.01 64.39A102.6 102.6 0 0 1 47.35 63.99L52.17 68.2A96.2 96.2 0 0 0 51.85 68.57Z" fill="#9a9a9a" stroke="#333" stroke-width="0.22"/>
<path d="M49.32 61.8A102.6 102.6 0 0 1 57.71 53.69L61.89 58.53A96.2 96.2 0 0 0 54.02 66.14Z" fill="#efefef"/>
<path d="M49.97 61.1A102.6 102.6 0 0 1 50.49 60.55L55.12 64.97A96.2 96.2 0 0 0 54.63 65.49Z" fill="#363636" stroke="#333" stroke-width="0.22"/>
<path d="M50.86 60.16A102.6 102.6 0 0 1 51.61 59.39L56.17 63.89A96.2 96.2 0 0 0 55.47 64.61Z" fill="#363636" stroke="#333" stroke-width="0.22"/>
<path d="M52.05 58.95A102.6 102.6 0 0 1 52.19 58.82L56.71 63.34A96.2 96.2 0 0 0 56.59 63.47Z" fill="#9a9a9a" stroke="#333" stroke-width="0.22"/>
<path d="M52.62 58.38A102.6 102.6 0 0 1 53.12 57.89L57.59 62.48A96.2 96.2 0 0 0 57.12 62.94Z" fill="#c89494" stroke="#333" stroke-width="0.22"/>
<path d="M53.48 57.54A102.6 102.6 0 0 1 53.79 57.25L58.21 61.87A96.2 96.2 0 0 0 57.92 62.15Z" fill="#9a9a9a" stroke="#333" stroke-width="0.22"/>
<path d="M54.22 56.84A102.6 102.6 0 0 1 54.77 56.32L59.14 61A96.2 96.2 0 0 0 58.62 61.49Z" fill="#363636" stroke="#333" stroke-width="0.22"/>
<path d="M54.83 56.27A102.6 102.6 0 0 1 55.41 55.73L59.74 60.45A96.2 96.2 0 0 0 59.19 60.96Z" fill="#9a9a9a" stroke="#333" stroke-width="0.22"/>
<path d="M55.88 55.3A102.6 102.6 0 0 1 56.6 54.66L60.85 59.45A96.2 96.2 0 0 0 60.17 60.05Z" fill="#363636" stroke="#333" stroke-width="0.22"/>
<path d="M56.81 54.48A102.6 102.6 0 0 1 57.07 54.24L61.29 59.06A96.2 96.2 0 0 0 61.04 59.28Z" fill="#666666" stroke="#333" stroke-width="0.22"/>
<path d="M59.98 51.79A102.6 102.6 0 0 1 67.13 46.47L70.72 51.77A96.2 96.2 0 0 0 64.02 56.75Z" fill="#efefef"/>
<path d="M59.98 51.79A102.6 102.6 0 0 1 60.38 51.46L64.39 56.45A96.2 96.2 0 0 0 64.02 56.75Z" fill="#e8e2e4" stroke="#333" stroke-width="0.22"/>
<path d="M60.38 51.46A102.6 102.6 0 0 1 60.96 51L64.94 56.02A96.2 96.2 0 0 0 64.39 56.45Z" fill="#a8aec4" stroke="#333" stroke-width="0.22"/>
<path d="M60.96 51A102.6 102.6 0 0 1 61.56 50.53L65.5 55.57A96.2 96.2 0 0 0 64.94 56.02Z" fill="#e8e2e4" stroke="#333" stroke-width="0.22"/>
<path d="M61.56 50.53A102.6 102.6 0 0 1 62.06 50.14L65.96 55.21A96.2 96.2 0 0 0 65.5 55.57Z" fill="#c89494" stroke="#333" stroke-width="0.22"/>
<path d="M62.37 49.91A102.6 102.6 0 0 1 63.49 49.06L67.31 54.19A96.2 96.2 0 0 0 66.25 54.99Z" fill="#000000" stroke="#333" stroke-width="0.22"/>
<path d="M63.91 48.75A102.6 102.6 0 0 1 64.61 48.24L68.36 53.42A96.2 96.2 0 0 0 67.7 53.91Z" fill="#363636" stroke="#333" stroke-width="0.22"/>
<path d="M65.26 47.77A102.6 102.6 0 0 1 65.56 47.56L69.25 52.79A96.2 96.2 0 0 0 68.97 52.99Z" fill="#666666" stroke="#333" stroke-width="0.22"/>
<path d="M65.85 47.36A102.6 102.6 0 0 1 66.29 47.05L69.93 52.31A96.2 96.2 0 0 0 69.52 52.6Z" fill="#666666" stroke="#333" stroke-width="0.22"/>
<path d="M69.6 44.85A102.6 102.6 0 0 1 77.85 40.12L80.77 45.82A96.2 96.2 0 0 0 73.04 50.25Z" fill="#efefef"/>
<path d="M69.6 44.85A102.6 102.6 0 0 1 70.2 44.47L73.6 49.9A96.2 96.2 0 0 0 73.04 50.25Z" fill="#e8e2e4" stroke="#333" stroke-width="0.22"/>
<path d="M70.2 44.47A102.6 102.6 0 0 1 70.9 44.03L74.26 49.48A96.2 96.2 0 0 0 73.6 49.9Z" fill="#a8aec4" stroke="#333" stroke-width="0.22"/>
<path d="M70.9 44.03A102.6 102.6 0 0 1 71.52 43.66L74.84 49.13A96.2 96.2 0 0 0 74.26 49.48Z" fill="#e8e2e4" stroke="#333" stroke-width="0.22"/>
<path d="M71.52 43.66A102.6 102.6 0 0 1 72.43 43.11L75.69 48.62A96.2 96.2 0 0 0 74.84 49.13Z" fill="#c89494" stroke="#333" stroke-width="0.22"/>
<path d="M73.12 42.71A102.6 102.6 0 0 1 73.32 42.59L76.53 48.13A96.2 96.2 0 0 0 76.33 48.24Z" fill="#9a9a9a" stroke="#333" stroke-width="0.22"/>
<path d="M73.71 42.37A102.6 102.6 0 0 1 74.31 42.03L77.45 47.6A96.2 96.2 0 0 0 76.89 47.92Z" fill="#666666" stroke="#333" stroke-width="0.22"/>
<path d="M74.73 41.79A102.6 102.6 0 0 1 75.6 41.31L78.66 46.93A96.2 96.2 0 0 0 77.84 47.38Z" fill="#666666" stroke="#333" stroke-width="0.22"/>
<path d="M76.16 41.01A102.6 102.6 0 0 1 76.68 40.73L79.68 46.39A96.2 96.2 0 0 0 79.18 46.65Z" fill="#666666" stroke="#333" stroke-width="0.22"/>
<path d="M77.37 40.37A102.6 102.6 0 0 1 77.53 40.28L80.48 45.97A96.2 96.2 0 0 0 80.32 46.05Z" fill="#666666" stroke="#333" stroke-width="0.22"/>
<path d="M80.49 38.81A102.6 102.6 0 0 1 107.86 30.19L108.91 36.5A96.2 96.2 0 0 0 83.25 44.59Z" fill="#efefef"/>
<path d="M81.21 38.47A102.6 102.6 0 0 1 81.5 38.34L84.2 44.14A96.2 96.2 0 0 0 83.93 44.27Z" fill="#666666" stroke="#333" stroke-width="0.22"/>
<path d="M82.09 38.07A102.6 102.6 0 0 1 83.38 37.49L85.95 43.35A96.2 96.2 0 0 0 84.75 43.89Z" fill="#666666" stroke="#333" stroke-width="0.22"/>
<path d="M83.75 37.33A102.6 102.6 0 0 1 84.19 37.14L86.72 43.02A96.2 96.2 0 0 0 86.3 43.2Z" fill="#666666" stroke="#333" stroke-width="0.22"/>
<path d="M84.7 36.92A102.6 102.6 0 0 1 85.45 36.6L87.9 42.52A96.2 96.2 0 0 0 87.2 42.81Z" fill="#000000" stroke="#333" stroke-width="0.22"/>
<path d="M85.83 36.45A102.6 102.6 0 0 1 86.88 36.02L89.24 41.97A96.2 96.2 0 0 0 88.26 42.37Z" fill="#000000" stroke="#333" stroke-width="0.22"/>
<path d="M87.71 35.7A102.6 102.6 0 0 1 88.4 35.44L90.67 41.42A96.2 96.2 0 0 0 90.02 41.67Z" fill="#363636" stroke="#333" stroke-width="0.22"/>
<path d="M88.99 35.21A102.6 102.6 0 0 1 89.86 34.9L92.03 40.92A96.2 96.2 0 0 0 91.22 41.21Z" fill="#9a9a9a" stroke="#333" stroke-width="0.22"/>
<path d="M90.44 34.69A102.6 102.6 0 0 1 91.29 34.39L93.38 40.44A96.2 96.2 0 0 0 92.57 40.72Z" fill="#c89494" stroke="#333" stroke-width="0.22"/>
<path d="M91.58 34.29A102.6 102.6 0 0 1 92.14 34.1L94.17 40.17A96.2 96.2 0 0 0 93.64 40.35Z" fill="#666666" stroke="#333" stroke-width="0.22"/>
<path d="M92.84 33.87A102.6 102.6 0 0 1 93.21 33.75L95.18 39.84A96.2 96.2 0 0 0 94.83 39.96Z" fill="#666666" stroke="#333" stroke-width="0.22"/>
<path d="M93.58 33.63A102.6 102.6 0 0 1 95.1 33.16L96.95 39.29A96.2 96.2 0 0 0 95.52 39.73Z" fill="#000000" stroke="#333" stroke-width="0.22"/>
<path d="M95.39 33.08A102.6 102.6 0 0 1 96.38 32.78L98.15 38.94A96.2 96.2 0 0 0 97.22 39.21Z" fill="#000000" stroke="#333" stroke-width="0.22"/>
<path d="M96.69 32.7A102.6 102.6 0 0 1 97.54 32.46L99.24 38.63A96.2 96.2 0 0 0 98.43 38.85Z" fill="#363636" stroke="#333" stroke-width="0.22"/>
<path d="M98.31 32.25A102.6 102.6 0 0 1 98.51 32.2L100.14 38.39A96.2 96.2 0 0 0 99.96 38.44Z" fill="#666666" stroke="#333" stroke-width="0.22"/>
<path d="M99.41 31.97A102.6 102.6 0 0 1 100.81 31.62L102.3 37.84A96.2 96.2 0 0 0 100.99 38.17Z" fill="#363636" stroke="#333" stroke-width="0.22"/>
<path d="M101.61 31.43A102.6 102.6 0 0 1 103.02 31.12L104.37 37.37A96.2 96.2 0 0 0 103.05 37.67Z" fill="#000000" stroke="#333" stroke-width="0.22"/>
<path d="M103.32 31.05A102.6 102.6 0 0 1 103.9 30.93L105.2 37.2A96.2 96.2 0 0 0 104.66 37.31Z" fill="#9a9a9a" stroke="#333" stroke-width="0.22"/>
<path d="M104.7 30.77A102.6 102.6 0 0 1 105.12 30.69L106.34 36.97A96.2 96.2 0 0 0 105.95 37.04Z" fill="#363636" stroke="#333" stroke-width="0.22"/>
<path d="M105.45 30.62A102.6 102.6 0 0 1 106.36 30.45L107.5 36.75A96.2 96.2 0 0 0 106.65 36.91Z" fill="#000000" stroke="#333" stroke-width="0.22"/>
<path d="M110.78 29.75A102.6 102.6 0 0 1 121.75 28.84L121.93 35.24A96.2 96.2 0 0 0 111.65 36.09Z" fill="#efefef"/>
<path d="M111.24 29.69A102.6 102.6 0 0 1 111.33 29.67L112.16 36.02A96.2 96.2 0 0 0 112.08 36.03Z" fill="#666666" stroke="#333" stroke-width="0.22"/>
<path d="M112.91 29.48A102.6 102.6 0 0 1 113.24 29.44L113.96 35.8A96.2 96.2 0 0 0 113.65 35.84Z" fill="#c89494" stroke="#333" stroke-width="0.22"/>
<path d="M113.56 29.41A102.6 102.6 0 0 1 114.42 29.32L115.06 35.68A96.2 96.2 0 0 0 114.25 35.77Z" fill="#666666" stroke="#333" stroke-width="0.22"/>
<path d="M114.85 29.27A102.6 102.6 0 0 1 115.6 29.2L116.17 35.58A96.2 96.2 0 0 0 115.46 35.64Z" fill="#666666" stroke="#333" stroke-width="0.22"/>
<path d="M116.08 29.16A102.6 102.6 0 0 1 121.75 28.84L121.93 35.24A96.2 96.2 0 0 0 116.62 35.54Z" fill="#e8e2e4" stroke="#333" stroke-width="0.22"/>
<path d="M124.7 63.1A68.3 68.3 0 0 1 154.42 69.91L148.51 82.15A54.7 54.7 0 0 0 124.7 76.7Z" fill="none" stroke="#333333" stroke-width="0.9"/>
<path d="M124.7 43.8A87.6 87.6 0 0 1 162.82 52.53L154.42 69.91A68.3 68.3 0 0 0 124.7 63.1Z" fill="none" stroke="#333333" stroke-width="0.9"/>
<path d="M124.7 36.5A94.9 94.9 0 0 1 166 45.96L162.82 52.53A87.6 87.6 0 0 0 124.7 43.8Z" fill="none" stroke="#333333" stroke-width="0.9"/>
<path d="M124.7 28.8A102.6 102.6 0 0 1 169.35 39.03L166.57 44.79A96.2 96.2 0 0 0 124.7 35.2Z" fill="none" stroke="#222" stroke-width="1.1"/>
<path d="M156.18 70.79A68.3 68.3 0 0 1 178.97 89.93L168.17 98.19A54.7 54.7 0 0 0 149.91 82.86Z" fill="none" stroke="#333333" stroke-width="0.9"/>
<path d="M165.08 53.66A87.6 87.6 0 0 1 194.31 78.22L178.97 89.93A68.3 68.3 0 0 0 156.18 70.79Z" fill="none" stroke="#333333" stroke-width="0.9"/>
<path d="M168.44 47.18A94.9 94.9 0 0 1 200.11 73.79L194.31 78.22A87.6 87.6 0 0 0 165.08 53.66Z" fill="none" stroke="#333333" stroke-width="0.9"/>
<path d="M171.99 40.35A102.6 102.6 0 0 1 206.23 69.11L201.14 73A96.2 96.2 0 0 0 169.04 46.03Z" fill="none" stroke="#222" stroke-width="1.1"/>
<path d="M180.14 91.51A68.3 68.3 0 0 1 190.6 113.45L177.48 117.02A54.7 54.7 0 0 0 169.1 99.46Z" fill="none" stroke="#333333" stroke-width="0.9"/>
<path d="M195.81 80.24A87.6 87.6 0 0 1 209.22 108.38L190.6 113.45A68.3 68.3 0 0 0 180.14 91.51Z" fill="none" stroke="#333333" stroke-width="0.9"/>
<path d="M201.74 75.98A94.9 94.9 0 0 1 216.26 106.46L209.22 108.38A87.6 87.6 0 0 0 195.81 80.24Z" fill="none" stroke="#333333" stroke-width="0.9"/>
<path d="M207.99 71.48A102.6 102.6 0 0 1 223.69 104.44L217.52 106.12A96.2 96.2 0 0 0 202.79 75.22Z" fill="none" stroke="#222" stroke-width="1.1"/>
<path d="M191.09 115.35A68.3 68.3 0 0 1 192.6 138.77L179.08 137.3A54.7 54.7 0 0 0 177.87 118.55Z" fill="none" stroke="#333333" stroke-width="0.9"/>
<path d="M209.85 110.82A87.6 87.6 0 0 1 211.79 140.86L192.6 138.77A68.3 68.3 0 0 0 191.09 115.35Z" fill="none" stroke="#333333" stroke-width="0.9"/>
<path d="M216.94 109.11A94.9 94.9 0 0 1 219.05 141.64L211.79 140.86A87.6 87.6 0 0 0 209.85 110.82Z" fill="none" stroke="#333333" stroke-width="0.9"/>
<path d="M224.43 107.3A102.6 102.6 0 0 1 226.7 142.48L220.34 141.78A96.2 96.2 0 0 0 218.21 108.8Z" fill="none" stroke="#222" stroke-width="1.1"/>
<path d="M192.36 140.73A68.3 68.3 0 0 1 185.79 161.95L173.62 155.87A54.7 54.7 0 0 0 178.89 138.87Z" fill="none" stroke="#333333" stroke-width="0.9"/>
<path d="M211.48 143.36A87.6 87.6 0 0 1 203.05 170.58L185.79 161.95A68.3 68.3 0 0 0 192.36 140.73Z" fill="none" stroke="#333333" stroke-width="0.9"/>
<path d="M218.71 144.36A94.9 94.9 0 0 1 209.58 173.85L203.05 170.58A87.6 87.6 0 0 0 211.48 143.36Z" fill="none" stroke="#333333" stroke-width="0.9"/>
<path d="M226.34 145.41A102.6 102.6 0 0 1 216.46 177.29L210.74 174.43A96.2 96.2 0 0 0 220 144.53Z" fill="none" stroke="#222" stroke-width="1.1"/>
<path d="M184.88 163.7A68.3 68.3 0 0 1 172.21 180.47L162.75 170.7A54.7 54.7 0 0 0 172.9 157.27Z" fill="none" stroke="#333333" stroke-width="0.9"/>
<path d="M201.89 172.82A87.6 87.6 0 0 1 185.63 194.34L172.21 180.47A68.3 68.3 0 0 0 184.88 163.7Z" fill="none" stroke="#333333" stroke-width="0.9"/>
<path d="M208.32 176.28A94.9 94.9 0 0 1 190.71 199.58L185.63 194.34A87.6 87.6 0 0 0 201.89 172.82Z" fill="none" stroke="#333333" stroke-width="0.9"/>
<path d="M215.1 179.92A102.6 102.6 0 0 1 196.06 205.12L191.61 200.52A96.2 96.2 0 0 0 209.47 176.89Z" fill="none" stroke="#222" stroke-width="1.1"/>
<path d="M170.77 181.82A68.3 68.3 0 0 1 154.59 192.81L148.64 180.58A54.7 54.7 0 0 0 161.6 171.78Z" fill="none" stroke="#333333" stroke-width="0.9"/>
<path d="M183.79 196.07A87.6 87.6 0 0 1 163.04 210.17L154.59 192.81A68.3 68.3 0 0 0 170.77 181.82Z" fill="none" stroke="#333333" stroke-width="0.9"/>
<path d="M188.72 201.46A94.9 94.9 0 0 1 166.23 216.73L163.04 210.17A87.6 87.6 0 0 0 183.79 196.07Z" fill="none" stroke="#333333" stroke-width="0.9"/>
<path d="M193.91 207.14A102.6 102.6 0 0 1 169.6 223.65L166.8 217.9A96.2 96.2 0 0 0 189.59 202.42Z" fill="none" stroke="#222" stroke-width="1.1"/>
<path d="M152.81 193.65A68.3 68.3 0 0 1 135.56 198.83L133.4 185.4A54.7 54.7 0 0 0 147.21 181.25Z" fill="none" stroke="#333333" stroke-width="0.9"/>
<path d="M160.75 211.24A87.6 87.6 0 0 1 138.63 217.89L135.56 198.83A68.3 68.3 0 0 0 152.81 193.65Z" fill="none" stroke="#333333" stroke-width="0.9"/>
<path d="M163.76 217.89A94.9 94.9 0 0 1 139.79 225.09L138.63 217.89A87.6 87.6 0 0 0 160.75 211.24Z" fill="none" stroke="#333333" stroke-width="0.9"/>
<path d="M166.93 224.91A102.6 102.6 0 0 1 141.02 232.69L140 226.38A96.2 96.2 0 0 0 164.29 219.07Z" fill="none" stroke="#222" stroke-width="1.1"/>
<path d="M133.62 199.12A68.3 68.3 0 0 1 116.24 199.17L117.93 185.68A54.7 54.7 0 0 0 131.84 185.63Z" fill="none" stroke="#333333" stroke-width="0.9"/>
<path d="M136.13 218.25A87.6 87.6 0 0 1 113.85 218.33L116.24 199.17A68.3 68.3 0 0 0 133.62 199.12Z" fill="none" stroke="#333333" stroke-width="0.9"/>
<path d="M137.09 225.49A94.9 94.9 0 0 1 112.95 225.57L113.85 218.33A87.6 87.6 0 0 0 136.13 218.25Z" fill="none" stroke="#333333" stroke-width="0.9"/>
<path d="M138.09 233.12A102.6 102.6 0 0 1 111.99 233.21L112.79 226.86A96.2 96.2 0 0 0 137.26 226.78Z" fill="none" stroke="#222" stroke-width="1.1"/>
<path d="M114.29 198.9A68.3 68.3 0 0 1 98.25 194.37L103.51 181.83A54.7 54.7 0 0 0 116.37 185.46Z" fill="none" stroke="#333333" stroke-width="0.9"/>
<path d="M111.35 217.98A87.6 87.6 0 0 1 90.77 212.16L98.25 194.37A68.3 68.3 0 0 0 114.29 198.9Z" fill="none" stroke="#333333" stroke-width="0.9"/>
<path d="M110.24 225.19A94.9 94.9 0 0 1 87.94 218.89L90.77 212.16A87.6 87.6 0 0 0 111.35 217.98Z" fill="none" stroke="#333333" stroke-width="0.9"/>
<path d="M109.07 232.8A102.6 102.6 0 0 1 84.96 225.99L87.44 220.09A96.2 96.2 0 0 0 110.04 226.48Z" fill="none" stroke="#222" stroke-width="1.1"/>
<path d="M96.44 193.58A68.3 68.3 0 0 1 82.27 184.92L90.71 174.26A54.7 54.7 0 0 0 102.07 181.2Z" fill="none" stroke="#333333" stroke-width="0.9"/>
<path d="M88.46 211.15A87.6 87.6 0 0 1 70.27 200.04L82.27 184.92A68.3 68.3 0 0 0 96.44 193.58Z" fill="none" stroke="#333333" stroke-width="0.9"/>
<path d="M85.44 217.8A94.9 94.9 0 0 1 65.74 205.76L70.27 200.04A87.6 87.6 0 0 0 88.46 211.15Z" fill="none" stroke="#333333" stroke-width="0.9"/>
<path d="M82.25 224.81A102.6 102.6 0 0 1 60.95 211.79L64.93 206.78A96.2 96.2 0 0 0 84.9 218.98Z" fill="none" stroke="#222" stroke-width="1.1"/>
<path d="M80.74 183.67A68.3 68.3 0 0 1 69.5 171.62L80.49 163.61A54.7 54.7 0 0 0 89.49 173.27Z" fill="none" stroke="#333333" stroke-width="0.9"/>
<path d="M68.32 198.45A87.6 87.6 0 0 1 53.9 182.99L69.5 171.62A68.3 68.3 0 0 0 80.74 183.67Z" fill="none" stroke="#333333" stroke-width="0.9"/>
<path d="M63.62 204.03A94.9 94.9 0 0 1 48 187.29L53.9 182.99A87.6 87.6 0 0 0 68.32 198.45Z" fill="none" stroke="#333333" stroke-width="0.9"/>
<path d="M58.67 209.93A102.6 102.6 0 0 1 41.78 191.82L46.95 188.05A96.2 96.2 0 0 0 62.79 205.03Z" fill="none" stroke="#222" stroke-width="1.1"/>
<path d="M68.36 170.02A68.3 68.3 0 0 1 61.6 157.54L74.17 152.34A54.7 54.7 0 0 0 79.58 162.33Z" fill="none" stroke="#333333" stroke-width="0.9"/>
<path d="M52.45 180.93A87.6 87.6 0 0 1 43.77 164.93L61.6 157.54A68.3 68.3 0 0 0 68.36 170.02Z" fill="none" stroke="#333333" stroke-width="0.9"/>
<path d="M46.42 185.06A94.9 94.9 0 0 1 37.03 167.73L43.77 164.93A87.6 87.6 0 0 0 52.45 180.93Z" fill="none" stroke="#333333" stroke-width="0.9"/>
<path d="M40.07 189.41A102.6 102.6 0 0 1 29.91 170.67L35.83 168.22A96.2 96.2 0 0 0 45.35 185.79Z" fill="none" stroke="#222" stroke-width="1.1"/>
<path d="M60.88 155.72A68.3 68.3 0 0 1 57.39 142.97L70.79 140.66A54.7 54.7 0 0 0 73.58 150.87Z" fill="none" stroke="#333333" stroke-width="0.9"/>
<path d="M42.84 162.59A87.6 87.6 0 0 1 38.37 146.24L57.39 142.97A68.3 68.3 0 0 0 60.88 155.72Z" fill="none" stroke="#333333" stroke-width="0.9"/>
<path d="M36.02 165.19A94.9 94.9 0 0 1 31.17 147.47L38.37 146.24A87.6 87.6 0 0 0 42.84 162.59Z" fill="none" stroke="#333333" stroke-width="0.9"/>
<path d="M28.82 167.93A102.6 102.6 0 0 1 23.58 148.78L29.89 147.69A96.2 96.2 0 0 0 34.8 165.65Z" fill="none" stroke="#222" stroke-width="1.1"/>
<path d="M57.08 141.02A68.3 68.3 0 0 1 56.47 128.41L70.05 129.01A54.7 54.7 0 0 0 70.55 139.11Z" fill="none" stroke="#333333" stroke-width="0.9"/>
<path d="M37.97 143.74A87.6 87.6 0 0 1 37.18 127.57L56.47 128.41A68.3 68.3 0 0 0 57.08 141.02Z" fill="none" stroke="#333333" stroke-width="0.9"/>
<path d="M30.75 144.77A94.9 94.9 0 0 1 29.89 127.25L37.18 127.57A87.6 87.6 0 0 0 37.97 143.74Z" fill="none" stroke="#333333" stroke-width="0.9"/>
<path d="M23.12 145.86A102.6 102.6 0 0 1 22.2 126.91L28.59 127.19A96.2 96.2 0 0 0 29.46 144.96Z" fill="none" stroke="#222" stroke-width="1.1"/>
<path d="M56.58 126.45A68.3 68.3 0 0 1 58.29 115.44L71.51 118.62A54.7 54.7 0 0 0 70.14 127.43Z" fill="none" stroke="#333333" stroke-width="0.9"/>
<path d="M37.33 125.05A87.6 87.6 0 0 1 39.53 110.93L58.29 115.44A68.3 68.3 0 0 0 56.58 126.45Z" fill="none" stroke="#333333" stroke-width="0.9"/>
<path d="M30.05 124.52A94.9 94.9 0 0 1 32.43 109.22L39.53 110.93A87.6 87.6 0 0 0 37.33 125.05Z" fill="none" stroke="#333333" stroke-width="0.9"/>
<path d="M22.37 123.96A102.6 102.6 0 0 1 24.94 107.42L31.16 108.92A96.2 96.2 0 0 0 28.75 124.42Z" fill="none" stroke="#222" stroke-width="1.1"/>
<path d="M58.78 113.53A68.3 68.3 0 0 1 62.1 104.09L74.56 109.53A54.7 54.7 0 0 0 71.9 117.09Z" fill="none" stroke="#333333" stroke-width="0.9"/>
<path d="M40.15 108.48A87.6 87.6 0 0 1 44.41 96.37L62.1 104.09A68.3 68.3 0 0 0 58.78 113.53Z" fill="none" stroke="#333333" stroke-width="0.9"/>
<path d="M33.1 106.57A94.9 94.9 0 0 1 37.72 93.45L44.41 96.37A87.6 87.6 0 0 0 40.15 108.48Z" fill="none" stroke="#333333" stroke-width="0.9"/>
<path d="M25.67 104.56A102.6 102.6 0 0 1 30.66 90.37L36.53 92.93A96.2 96.2 0 0 0 31.85 106.23Z" fill="none" stroke="#222" stroke-width="1.1"/>
<path d="M62.91 102.3A68.3 68.3 0 0 1 67.62 93.9L78.98 101.37A54.7 54.7 0 0 0 75.21 108.09Z" fill="none" stroke="#333333" stroke-width="0.9"/>
<path d="M45.45 94.08A87.6 87.6 0 0 1 51.49 83.3L67.62 93.9A68.3 68.3 0 0 0 62.91 102.3Z" fill="none" stroke="#333333" stroke-width="0.9"/>
<path d="M38.85 90.96A94.9 94.9 0 0 1 45.38 79.29L51.49 83.3A87.6 87.6 0 0 0 45.45 94.08Z" fill="none" stroke="#333333" stroke-width="0.9"/>
<path d="M31.88 87.68A102.6 102.6 0 0 1 38.95 75.07L44.3 78.58A96.2 96.2 0 0 0 37.67 90.41Z" fill="none" stroke="#222" stroke-width="1.1"/>
<path d="M68.72 92.27A68.3 68.3 0 0 1 73.21 86.53L83.46 95.46A54.7 54.7 0 0 0 79.87 100.06Z" fill="none" stroke="#333333" stroke-width="0.9"/>
<path d="M52.9 81.21A87.6 87.6 0 0 1 58.66 73.85L73.21 86.53A68.3 68.3 0 0 0 68.72 92.27Z" fill="none" stroke="#333333" stroke-width="0.9"/>
<path d="M46.92 77.03A94.9 94.9 0 0 1 53.15 69.05L58.66 73.85A87.6 87.6 0 0 0 52.9 81.21Z" fill="none" stroke="#333333" stroke-width="0.9"/>
<path d="M40.61 72.62A102.6 102.6 0 0 1 47.35 63.99L52.17 68.2A96.2 96.2 0 0 0 45.85 76.29Z" fill="none" stroke="#222" stroke-width="1.1"/>
<path d="M74.52 85.06A68.3 68.3 0 0 1 80.11 79.67L88.99 89.97A54.7 54.7 0 0 0 84.51 94.29Z" fill="none" stroke="#333333" stroke-width="0.9"/>
<path d="M60.34 71.97A87.6 87.6 0 0 1 67.51 65.05L80.11 79.67A68.3 68.3 0 0 0 74.52 85.06Z" fill="none" stroke="#333333" stroke-width="0.9"/>
<path d="M54.98 67.02A94.9 94.9 0 0 1 62.74 59.52L67.51 65.05A87.6 87.6 0 0 0 60.34 71.97Z" fill="none" stroke="#333333" stroke-width="0.9"/>
<path d="M49.32 61.8A102.6 102.6 0 0 1 57.71 53.69L61.89 58.53A96.2 96.2 0 0 0 54.02 66.14Z" fill="none" stroke="#222" stroke-width="1.1"/>
<path d="M81.62 78.4A68.3 68.3 0 0 1 86.38 74.86L94.01 86.12A54.7 54.7 0 0 0 90.19 88.96Z" fill="none" stroke="#333333" stroke-width="0.9"/>
<path d="M69.44 63.43A87.6 87.6 0 0 1 75.55 58.89L86.38 74.86A68.3 68.3 0 0 0 81.62 78.4Z" fill="none" stroke="#333333" stroke-width="0.9"/>
<path d="M64.84 57.76A94.9 94.9 0 0 1 71.45 52.85L75.55 58.89A87.6 87.6 0 0 0 69.44 63.43Z" fill="none" stroke="#333333" stroke-width="0.9"/>
<path d="M59.98 51.79A102.6 102.6 0 0 1 67.13 46.47L70.72 51.77A96.2 96.2 0 0 0 64.02 56.75Z" fill="none" stroke="#222" stroke-width="1.1"/>
<path d="M88.02 73.78A68.3 68.3 0 0 1 93.51 70.64L99.72 82.74A54.7 54.7 0 0 0 95.32 85.26Z" fill="none" stroke="#333333" stroke-width="0.9"/>
<path d="M77.66 57.5A87.6 87.6 0 0 1 84.7 53.47L93.51 70.64A68.3 68.3 0 0 0 88.02 73.78Z" fill="none" stroke="#333333" stroke-width="0.9"/>
<path d="M73.74 51.35A94.9 94.9 0 0 1 81.36 46.97L84.7 53.47A87.6 87.6 0 0 0 77.66 57.5Z" fill="none" stroke="#333333" stroke-width="0.9"/>
<path d="M69.6 44.85A102.6 102.6 0 0 1 77.85 40.12L80.77 45.82A96.2 96.2 0 0 0 73.04 50.25Z" fill="none" stroke="#222" stroke-width="1.1"/>
<path d="M95.27 69.76A68.3 68.3 0 0 1 113.49 64.03L115.72 77.44A54.7 54.7 0 0 0 101.13 82.04Z" fill="none" stroke="#333333" stroke-width="0.9"/>
<path d="M86.96 52.35A87.6 87.6 0 0 1 110.32 44.99L113.49 64.03A68.3 68.3 0 0 0 95.27 69.76Z" fill="none" stroke="#333333" stroke-width="0.9"/>
<path d="M83.81 45.76A94.9 94.9 0 0 1 109.12 37.79L110.32 44.99A87.6 87.6 0 0 0 86.96 52.35Z" fill="none" stroke="#333333" stroke-width="0.9"/>
<path d="M80.49 38.81A102.6 102.6 0 0 1 107.86 30.19L108.91 36.5A96.2 96.2 0 0 0 83.25 44.59Z" fill="none" stroke="#222" stroke-width="1.1"/>
<path d="M115.43 63.73A68.3 68.3 0 0 1 122.73 63.13L123.12 76.72A54.7 54.7 0 0 0 117.28 77.21Z" fill="none" stroke="#333333" stroke-width="0.9"/>
<path d="M112.81 44.61A87.6 87.6 0 0 1 122.18 43.84L122.73 63.13A68.3 68.3 0 0 0 115.43 63.73Z" fill="none" stroke="#333333" stroke-width="0.9"/>
<path d="M111.82 37.38A94.9 94.9 0 0 1 121.97 36.54L122.18 43.84A87.6 87.6 0 0 0 112.81 44.61Z" fill="none" stroke="#333333" stroke-width="0.9"/>
<path d="M110.78 29.75A102.6 102.6 0 0 1 121.75 28.84L121.93 35.24A96.2 96.2 0 0 0 111.65 36.09Z" fill="none" stroke="#222" stroke-width="1.1"/>
<path d="M127.09 59.44A72 72 0 0 1 130.98 59.67L130.79 61.77A69.9 69.9 0 0 0 127.02 61.54Z" fill="#5577c2" stroke="#1c2850" stroke-width="0.55"/>
<path d="M128.32 57.39A74.1 74.1 0 0 1 130.9 57.56L130.72 59.65A72 72 0 0 0 128.22 59.49Z" fill="#5577c2" stroke="#1c2850" stroke-width="0.55"/>
<path d="M142.84 61.77A71.95 71.95 0 0 1 155.79 66.51L154.95 68.27A70 70 0 0 0 142.34 63.66Z" fill="#c8844a" stroke="#4a2a10" stroke-width="0.55"/>
<path d="M143.45 59.92A73.9 73.9 0 0 1 156.63 64.75L155.79 66.51A71.95 71.95 0 0 0 142.96 61.81Z" fill="#dc9a58" stroke="#4a2a10" stroke-width="0.55"/>
<path d="M144.08 58.07A75.85 75.85 0 0 1 157.47 63L156.63 64.75A73.9 73.9 0 0 0 143.58 59.95Z" fill="#dcc07a" stroke="#4a2a10" stroke-width="0.55"/>
<path d="M144.7 56.22A77.8 77.8 0 0 1 158.32 61.24L157.47 63A75.85 75.85 0 0 0 144.2 58.1Z" fill="#a9bde6" stroke="#1c2850" stroke-width="0.55"/>
<path d="M145.34 54.37A79.75 79.75 0 0 1 159.16 59.48L158.32 61.24A77.8 77.8 0 0 0 144.84 56.25Z" fill="#5a80d0" stroke="#1c2850" stroke-width="0.55"/>
<path d="M145.98 52.52A81.7 81.7 0 0 1 160 57.72L159.16 59.48A79.75 79.75 0 0 0 145.48 54.4Z" fill="#4468bc" stroke="#1c2850" stroke-width="0.55"/>
<path d="M189.6 103.85A70.5 70.5 0 0 1 192.05 110.55L189.95 111.2A68.3 68.3 0 0 0 187.57 104.71Z" fill="#2f4c94" stroke="#1c2850" stroke-width="0.55"/>
<path d="M191.43 102.8A72.6 72.6 0 0 1 194.05 109.93L192.05 110.55A70.5 70.5 0 0 0 189.5 103.63Z" fill="#d08a40" stroke="#4a2a10" stroke-width="0.55"/>
<path d="M193.71 102.53A74.8 74.8 0 0 1 196.08 109.03L193.98 109.69A72.6 72.6 0 0 0 191.68 103.38Z" fill="#5577c2" stroke="#1c2850" stroke-width="0.55"/>
<path d="M197.24 105.57A77 77 0 0 1 198.45 109.27L196.35 109.91A74.8 74.8 0 0 0 195.17 106.31Z" fill="#2f4c94" stroke="#1c2850" stroke-width="0.55"/>
<path d="M199.03 104.05A79.2 79.2 0 0 1 200.56 108.64L198.45 109.27A77 77 0 0 0 196.96 104.81Z" fill="#5577c2" stroke="#1c2850" stroke-width="0.55"/>
<path d="M201.38 104.7A81.2 81.2 0 0 1 202.35 107.66L200.44 108.24A79.2 79.2 0 0 0 199.49 105.35Z" fill="#5577c2" stroke="#1c2850" stroke-width="0.55"/>
<path d="M185.22 167.76A70.6 70.6 0 0 1 183.57 170.37L181.65 169.1A68.3 68.3 0 0 0 183.24 166.58Z" fill="#5577c2" stroke="#1c2850" stroke-width="0.55"/>
<path d="M186.54 169.44A72.6 72.6 0 0 1 185.59 170.94L183.91 169.85A70.6 70.6 0 0 0 184.83 168.39Z" fill="#5577c2" stroke="#1c2850" stroke-width="0.55"/>
<path d="M149.17 197.2A70.2 70.2 0 0 1 135.86 200.71L135.56 198.83A68.3 68.3 0 0 0 148.51 195.42Z" fill="#5577c2" stroke="#1c2850" stroke-width="0.55"/>
<path d="M147.01 200.07A72.2 72.2 0 0 1 141.55 201.61L141.09 199.66A70.2 70.2 0 0 0 146.39 198.16Z" fill="#5577c2" stroke="#1c2850" stroke-width="0.55"/>
<path d="M145.1 202.53A74 74 0 0 1 143.23 203.04L142.78 201.3A72.2 72.2 0 0 0 144.6 200.8Z" fill="#5577c2" stroke="#1c2850" stroke-width="0.55"/>
<path d="M133.82 200.7A69.9 69.9 0 0 1 116.05 200.76L116.25 199.17A68.3 68.3 0 0 0 133.61 199.12Z" fill="#5577c2" stroke="#1c2850" stroke-width="0.55"/>
<path d="M64.39 166.93A70 70 0 0 1 60.08 158.3L61.64 157.65A68.3 68.3 0 0 0 65.85 166.06Z" fill="#3a5490" stroke="#1c2850" stroke-width="0.55"/>
<path d="M54.62 124.65A70.4 70.4 0 0 1 54.9 122.21L56.98 122.49A68.3 68.3 0 0 0 56.71 124.85Z" fill="#2a3f78" stroke="#1c2850" stroke-width="0.55"/>
<path d="M73.02 81.84A71.6 71.6 0 0 1 74.34 80.51L75.88 82.07A69.4 69.4 0 0 0 74.61 83.37Z" fill="#2a3f78" stroke="#1c2850" stroke-width="0.55"/>
<path d="M94.34 66.89A71.3 71.3 0 0 1 97.41 65.53L97.91 66.73A70 70 0 0 0 94.9 68.06Z" fill="#2a3f78" stroke="#1c2850" stroke-width="0.55"/>
<path d="M124.7 70.8A60.6 60.6 0 0 1 127.66 70.87L127.4 76.27A55.2 55.2 0 0 0 124.7 76.2Z" fill="#7a2626" stroke="#2a2a2a" stroke-width="0.55"/>
<path d="M179.49 147.11A57 57 0 0 1 175.68 156.9L173.62 155.87A54.7 54.7 0 0 0 177.28 146.48Z" fill="#8e2c2c" stroke="#3a0c0c" stroke-width="0.55"/>
<path d="M180.14 151.58A59 59 0 0 1 177.47 157.79L175.68 156.9A57 57 0 0 0 178.26 150.9Z" fill="#8e2c2c" stroke="#3a0c0c" stroke-width="0.55"/>
<path d="M168.53 167.53A56.8 56.8 0 0 1 164.21 172.21L162.75 170.7A54.7 54.7 0 0 0 166.91 166.19Z" fill="#8e2c2c" stroke="#3a0c0c" stroke-width="0.55"/>
<path d="M174.84 158.31A56.9 56.9 0 0 1 172.95 161.55L171.09 160.39A54.7 54.7 0 0 0 172.9 157.27Z" fill="#8e2c2c" stroke="#3a0c0c" stroke-width="0.55"/>
<path d="M176.69 159.3A59 59 0 0 1 175.27 161.79L173.47 160.71A56.9 56.9 0 0 0 174.84 158.31Z" fill="#8e2c2c" stroke="#3a0c0c" stroke-width="0.55"/>
<path d="M162.95 173.26A56.7 56.7 0 0 1 150.62 181.83L149.79 180.23A54.9 54.9 0 0 0 161.73 171.93Z" fill="#8e2c2c" stroke="#3a0c0c" stroke-width="0.55"/>
<path d="M164.77 175.25A59.4 59.4 0 0 1 152.59 183.85L151.79 182.35A57.7 57.7 0 0 0 163.62 174Z" fill="#8e2c2c" stroke="#3a0c0c" stroke-width="0.55"/>
<path d="M165.88 177.62A61.9 61.9 0 0 1 154.71 185.54L153.98 184.23A60.4 60.4 0 0 0 164.88 176.5Z" fill="#8e2c2c" stroke="#3a0c0c" stroke-width="0.55"/>
<path d="M86.2 173.71A57.2 57.2 0 0 1 84.54 172.13L86.29 170.35A54.7 54.7 0 0 0 87.89 171.86Z" fill="#4a2424" stroke="#2a2a2a" stroke-width="0.55"/>
<path d="M90.68 176.88A56.8 56.8 0 0 1 89.03 175.6L90.35 173.97A54.7 54.7 0 0 0 91.93 175.2Z" fill="#4a2424" stroke="#2a2a2a" stroke-width="0.55"/>
<path d="M74.63 100.96A58.6 58.6 0 0 1 75.55 99.48L78.07 101.12A55.6 55.6 0 0 0 77.19 102.51Z" fill="#5a2020" stroke="#2a2a2a" stroke-width="0.55"/>
<path d="M84.87 88.69A58.4 58.4 0 0 1 86.08 87.59L87.8 89.54A55.8 55.8 0 0 0 86.64 90.59Z" fill="#5a2020" stroke="#2a2a2a" stroke-width="0.55"/>
<path d="M197.4 79.54A89.3 89.3 0 0 1 200.84 84.74L199.39 85.63A87.6 87.6 0 0 0 196.02 80.53Z" fill="#a3b85a" stroke="#34440e" stroke-width="0.55"/>
<path d="M203.18 174.01A89.3 89.3 0 0 1 201.25 177.39L199.79 176.52A87.6 87.6 0 0 0 201.68 173.2Z" fill="#a3b85a" stroke="#34440e" stroke-width="0.55"/>
<path d="M100.41 217.23A89.2 89.2 0 0 1 90.42 213.75L91.04 212.27A87.6 87.6 0 0 0 100.85 215.69Z" fill="#a3b85a" stroke="#34440e" stroke-width="0.55"/>
<path d="M36.07 123.33A89 89 0 0 1 36.52 119.32L37.91 119.51A87.6 87.6 0 0 0 37.46 123.46Z" fill="#6a8a2a" stroke="#2a2a2a" stroke-width="0.55"/>
<text x="149.72" y="21.86" transform="rotate(12.9 149.72 21.86)" text-anchor="middle" dominant-baseline="central" font-size="7.9" stroke="#000" stroke-width="0.2">1</text>
<text x="196.51" y="45.15" transform="rotate(40.03 196.51 45.15)" text-anchor="middle" dominant-baseline="central" font-size="7.9" stroke="#000" stroke-width="0.2">2</text>
<text x="225.41" y="82.52" transform="rotate(64.52 225.41 82.52)" text-anchor="middle" dominant-baseline="central" font-size="7.9" stroke="#000" stroke-width="0.2">3</text>
<text x="236.02" y="123.27" transform="rotate(86.3 236.02 123.27)" text-anchor="middle" dominant-baseline="central" font-size="7.9" stroke="#000" stroke-width="0.2">4</text>
<text x="232.31" y="163.73" transform="rotate(-72.79 232.31 163.73)" text-anchor="middle" dominant-baseline="central" font-size="7.9" stroke="#000" stroke-width="0.2">5</text>
<text x="214.61" y="198.27" transform="rotate(-52.92 214.61 198.27)" text-anchor="middle" dominant-baseline="central" font-size="7.9" stroke="#000" stroke-width="0.2">6</text>
<text x="188.06" y="223.51" transform="rotate(-34.19 188.06 223.51)" text-anchor="middle" dominant-baseline="central" font-size="7.9" stroke="#000" stroke-width="0.2">7</text>
<text x="157.23" y="238.19" transform="rotate(-16.73 157.23 238.19)" text-anchor="middle" dominant-baseline="central" font-size="7.9" stroke="#000" stroke-width="0.2">8</text>
<text x="125.23" y="242.95" transform="rotate(-0.19 125.23 242.95)" text-anchor="middle" dominant-baseline="central" font-size="7.9" stroke="#000" stroke-width="0.2">9</text>
<text x="94.26" y="238.71" transform="rotate(15.78 94.26 238.71)" text-anchor="middle" dominant-baseline="central" font-size="7.9" stroke="#000" stroke-width="0.2">10</text>
<text x="66.19" y="226.45" transform="rotate(31.42 66.19 226.45)" text-anchor="middle" dominant-baseline="central" font-size="7.9" stroke="#000" stroke-width="0.2">11</text>
<text x="42.59" y="207.19" transform="rotate(46.99 42.59 207.19)" text-anchor="middle" dominant-baseline="central" font-size="7.9" stroke="#000" stroke-width="0.2">12</text>
<text x="25.95" y="184.08" transform="rotate(61.53 25.95 184.08)" text-anchor="middle" dominant-baseline="central" font-size="7.9" stroke="#000" stroke-width="0.2">13</text>
<text x="16.34" y="160.14" transform="rotate(74.7 16.34 160.14)" text-anchor="middle" dominant-baseline="central" font-size="7.9" stroke="#000" stroke-width="0.2">14</text>
<text x="12.48" y="135.94" transform="rotate(87.2 12.48 135.94)" text-anchor="middle" dominant-baseline="central" font-size="7.9" stroke="#000" stroke-width="0.2">15</text>
<text x="14.77" y="113.34" transform="rotate(278.84 14.77 113.34)" text-anchor="middle" dominant-baseline="central" font-size="7.9" stroke="#000" stroke-width="0.2">16</text>
<text x="19.75" y="93.51" transform="rotate(289.37 19.75 93.51)" text-anchor="middle" dominant-baseline="central" font-size="7.9" stroke="#000" stroke-width="0.2">17</text>
<text x="27.66" y="76" transform="rotate(299.26 27.66 76)" text-anchor="middle" dominant-baseline="central" font-size="7.9" stroke="#000" stroke-width="0.2">18</text>
<text x="37.08" y="61.85" transform="rotate(308.01 37.08 61.85)" text-anchor="middle" dominant-baseline="central" font-size="7.9" stroke="#000" stroke-width="0.2">19</text>
<text x="47.44" y="50.34" transform="rotate(315.98 47.44 50.34)" text-anchor="middle" dominant-baseline="central" font-size="7.9" stroke="#000" stroke-width="0.2">20</text>
<text x="58.4" y="41.04" transform="rotate(323.38 58.4 41.04)" text-anchor="middle" dominant-baseline="central" font-size="7.9" stroke="#000" stroke-width="0.2">21</text>
<text x="69.44" y="33.81" transform="rotate(330.17 69.44 33.81)" text-anchor="middle" dominant-baseline="central" font-size="7.9" stroke="#000" stroke-width="0.2">22</text>
<text x="91.38" y="24.2" transform="rotate(342.52 91.38 24.2)" text-anchor="middle" dominant-baseline="central" font-size="7.9" stroke="#000" stroke-width="0.2">X</text>
<text x="115.68" y="19.43" transform="rotate(355.28 115.68 19.43)" text-anchor="middle" dominant-baseline="central" font-size="7.9" stroke="#000" stroke-width="0.2">Y</text>
</g>
<g>
<line x1="306.8" y1="128.6" x2="505.5" y2="49.1" stroke="#e8a86a" stroke-width="0.9"/>
<line x1="306.8" y1="128.6" x2="505.5" y2="82.9" stroke="#4f7fcf" stroke-width="0.9"/>
<line x1="306.8" y1="128.6" x2="505.5" y2="128.4" stroke="#a6c35a" stroke-width="0.9"/>
<line x1="306.8" y1="128.6" x2="505.5" y2="189.0" stroke="#a83a3a" stroke-width="0.9"/>
<circle cx="364.2" cy="97.1" r="1.4" fill="#e39760"/>
<circle cx="395.9" cy="92.6" r="1.4" fill="#e39760"/>
<circle cx="408.4" cy="80.1" r="1.4" fill="#e39760"/>
<circle cx="430.1" cy="87.6" r="1.4" fill="#e39760"/>
<circle cx="438.3" cy="76.1" r="1.4" fill="#e39760"/>
<circle cx="501.8" cy="54.6" r="1.4" fill="#e39760"/>
<circle cx="344.5" cy="120.8" r="1.4" fill="#3d66b6"/>
<circle cx="358.3" cy="110.7" r="1.4" fill="#3d66b6"/>
<circle cx="358" cy="115" r="1.4" fill="#3d66b6"/>
<circle cx="355.2" cy="119.7" r="1.4" fill="#3d66b6"/>
<circle cx="359.1" cy="119.2" r="1.4" fill="#3d66b6"/>
<circle cx="360.7" cy="122" r="1.4" fill="#3d66b6"/>
<circle cx="364.3" cy="121.3" r="1.4" fill="#3d66b6"/>
<circle cx="362" cy="112.5" r="1.4" fill="#3d66b6"/>
<circle cx="367.1" cy="112.4" r="1.4" fill="#3d66b6"/>
<circle cx="369.9" cy="112" r="1.4" fill="#3d66b6"/>
<circle cx="384.3" cy="112.4" r="1.4" fill="#3d66b6"/>
<circle cx="386.7" cy="110.8" r="1.4" fill="#3d66b6"/>
<circle cx="394.3" cy="109.1" r="1.4" fill="#3d66b6"/>
<circle cx="395.9" cy="110.8" r="1.4" fill="#3d66b6"/>
<circle cx="418" cy="92.8" r="1.4" fill="#3d66b6"/>
<circle cx="424.2" cy="100.9" r="1.4" fill="#3d66b6"/>
<circle cx="444.3" cy="97.1" r="1.4" fill="#3d66b6"/>
<circle cx="457.2" cy="102.5" r="1.4" fill="#3d66b6"/>
<circle cx="324.7" cy="129.7" r="1.4" fill="#98c040"/>
<circle cx="333" cy="132" r="1.4" fill="#98c040"/>
<circle cx="340.7" cy="126.3" r="1.4" fill="#98c040"/>
<circle cx="360.7" cy="128" r="1.4" fill="#98c040"/>
<circle cx="362.3" cy="127" r="1.4" fill="#98c040"/>
<circle cx="451.8" cy="130.6" r="1.4" fill="#98c040"/>
<circle cx="332.8" cy="132.3" r="1.4" fill="#a42c2c"/>
<circle cx="334.6" cy="134.7" r="1.4" fill="#a42c2c"/>
<circle cx="338.4" cy="145" r="1.4" fill="#a42c2c"/>
<circle cx="359.4" cy="142.4" r="1.4" fill="#a42c2c"/>
<circle cx="360.8" cy="143.2" r="1.4" fill="#a42c2c"/>
<circle cx="364.8" cy="142.9" r="1.4" fill="#a42c2c"/>
<circle cx="369.5" cy="144.8" r="1.4" fill="#a42c2c"/>
<circle cx="370.7" cy="147.2" r="1.4" fill="#a42c2c"/>
<circle cx="378.3" cy="144.8" r="1.4" fill="#a42c2c"/>
<circle cx="382" cy="151.9" r="1.4" fill="#a42c2c"/>
<circle cx="388.4" cy="150.2" r="1.4" fill="#a42c2c"/>
<circle cx="390.3" cy="146.5" r="1.4" fill="#a42c2c"/>
<circle cx="401.3" cy="163.7" r="1.4" fill="#a42c2c"/>
<circle cx="408.4" cy="161.8" r="1.4" fill="#a42c2c"/>
<circle cx="406.1" cy="169.6" r="1.4" fill="#a42c2c"/>
<circle cx="424.3" cy="167.2" r="1.4" fill="#a42c2c"/>
<circle cx="455.7" cy="174.8" r="1.4" fill="#a42c2c"/>
<circle cx="465.6" cy="162" r="1.4" fill="#a42c2c"/>
<circle cx="480" cy="179.7" r="1.4" fill="#a42c2c"/>
<path d="M306.8 36.7V217.6H508.7" fill="none" stroke="#000" stroke-width="1.3"/>
<line x1="306.8" y1="217.6" x2="306.8" y2="220.6" stroke="#000" stroke-width="1"/>
<text x="306.8" y="230.6" text-anchor="middle" font-size="7.8" fill="#1c1c1c">0</text>
<line x1="326.75" y1="217.6" x2="326.75" y2="220.6" stroke="#000" stroke-width="1"/>
<text x="326.75" y="230.6" text-anchor="middle" font-size="7.8" fill="#1c1c1c">10</text>
<line x1="346.7" y1="217.6" x2="346.7" y2="220.6" stroke="#000" stroke-width="1"/>
<text x="346.7" y="230.6" text-anchor="middle" font-size="7.8" fill="#1c1c1c">20</text>
<line x1="366.65" y1="217.6" x2="366.65" y2="220.6" stroke="#000" stroke-width="1"/>
<text x="366.65" y="230.6" text-anchor="middle" font-size="7.8" fill="#1c1c1c">30</text>
<line x1="386.6" y1="217.6" x2="386.6" y2="220.6" stroke="#000" stroke-width="1"/>
<text x="386.6" y="230.6" text-anchor="middle" font-size="7.8" fill="#1c1c1c">40</text>
<line x1="406.55" y1="217.6" x2="406.55" y2="220.6" stroke="#000" stroke-width="1"/>
<text x="406.55" y="230.6" text-anchor="middle" font-size="7.8" fill="#1c1c1c">50</text>
<line x1="426.5" y1="217.6" x2="426.5" y2="220.6" stroke="#000" stroke-width="1"/>
<text x="426.5" y="230.6" text-anchor="middle" font-size="7.8" fill="#1c1c1c">60</text>
<line x1="446.45" y1="217.6" x2="446.45" y2="220.6" stroke="#000" stroke-width="1"/>
<text x="446.45" y="230.6" text-anchor="middle" font-size="7.8" fill="#1c1c1c">70</text>
<line x1="466.4" y1="217.6" x2="466.4" y2="220.6" stroke="#000" stroke-width="1"/>
<text x="466.4" y="230.6" text-anchor="middle" font-size="7.8" fill="#1c1c1c">80</text>
<line x1="486.35" y1="217.6" x2="486.35" y2="220.6" stroke="#000" stroke-width="1"/>
<text x="486.35" y="230.6" text-anchor="middle" font-size="7.8" fill="#1c1c1c">90</text>
<line x1="506.3" y1="217.6" x2="506.3" y2="220.6" stroke="#000" stroke-width="1"/>
<text x="506.3" y="230.6" text-anchor="middle" font-size="7.8" fill="#1c1c1c">100</text>
<line x1="303.6" y1="217.7" x2="306.8" y2="217.7" stroke="#000" stroke-width="1"/>
<text x="300.4" y="220.5" text-anchor="end" font-size="7.8" fill="#1c1c1c">–0.5</text>
<line x1="303.6" y1="199.88" x2="306.8" y2="199.88" stroke="#000" stroke-width="1"/>
<text x="300.4" y="202.68" text-anchor="end" font-size="7.8" fill="#1c1c1c">–0.4</text>
<line x1="303.6" y1="182.06" x2="306.8" y2="182.06" stroke="#000" stroke-width="1"/>
<text x="300.4" y="184.86" text-anchor="end" font-size="7.8" fill="#1c1c1c">–0.3</text>
<line x1="303.6" y1="164.24" x2="306.8" y2="164.24" stroke="#000" stroke-width="1"/>
<text x="300.4" y="167.04" text-anchor="end" font-size="7.8" fill="#1c1c1c">–0.2</text>
<line x1="303.6" y1="146.42" x2="306.8" y2="146.42" stroke="#000" stroke-width="1"/>
<text x="300.4" y="149.22" text-anchor="end" font-size="7.8" fill="#1c1c1c">–0.1</text>
<line x1="303.6" y1="128.6" x2="306.8" y2="128.6" stroke="#000" stroke-width="1"/>
<text x="300.4" y="131.4" text-anchor="end" font-size="7.8" fill="#1c1c1c">0.0</text>
<line x1="303.6" y1="110.78" x2="306.8" y2="110.78" stroke="#000" stroke-width="1"/>
<text x="300.4" y="113.58" text-anchor="end" font-size="7.8" fill="#1c1c1c">0.1</text>
<line x1="303.6" y1="92.96" x2="306.8" y2="92.96" stroke="#000" stroke-width="1"/>
<text x="300.4" y="95.76" text-anchor="end" font-size="7.8" fill="#1c1c1c">0.2</text>
<line x1="303.6" y1="75.14" x2="306.8" y2="75.14" stroke="#000" stroke-width="1"/>
<text x="300.4" y="77.94" text-anchor="end" font-size="7.8" fill="#1c1c1c">0.3</text>
<line x1="303.6" y1="57.32" x2="306.8" y2="57.32" stroke="#000" stroke-width="1"/>
<text x="300.4" y="60.12" text-anchor="end" font-size="7.8" fill="#1c1c1c">0.4</text>
<line x1="303.6" y1="39.5" x2="306.8" y2="39.5" stroke="#000" stroke-width="1"/>
<text x="300.4" y="42.3" text-anchor="end" font-size="7.8" fill="#1c1c1c">0.5</text>
<circle cx="315.2" cy="29.7" r="3.1" fill="#e5a36b"/>
<text x="322.4" y="32.8" font-size="7.2" fill="#1a1a1a" textLength="114.6" lengthAdjust="spacing">MultiGain; <tspan font-style="italic">R</tspan><tspan font-size="4" dy="-2.8"> 2</tspan><tspan dy="2.8">=0.98; Adj–</tspan><tspan font-style="italic">R</tspan><tspan font-size="4" dy="-2.8"> 2</tspan><tspan dy="2.8">=0.99</tspan></text>
<circle cx="315.2" cy="39.35" r="3.1" fill="#5b8ad6"/>
<text x="322.4" y="42.45" font-size="7.2" fill="#1a1a1a" textLength="98.5" lengthAdjust="spacing">Gain; <tspan font-style="italic">R</tspan><tspan font-size="4" dy="-2.8"> 2</tspan><tspan dy="2.8">=0.94; Adj–</tspan><tspan font-style="italic">R</tspan><tspan font-size="4" dy="-2.8"> 2</tspan><tspan dy="2.8">=0.95</tspan></text>
<circle cx="315.2" cy="49" r="3.1" fill="#9bbf4a"/>
<text x="322.4" y="52.1" font-size="7.2" fill="#1a1a1a" textLength="103.2" lengthAdjust="spacing">UPD; <tspan font-style="italic">R</tspan><tspan font-size="4" dy="-2.8"> 2</tspan><tspan dy="2.8">=–0.03; Adj–</tspan><tspan font-style="italic">R</tspan><tspan font-size="4" dy="-2.8"> 2</tspan><tspan dy="2.8">=0.14</tspan></text>
<circle cx="315.2" cy="58.65" r="3.1" fill="#b0343a"/>
<text x="322.4" y="61.75" font-size="7.2" fill="#1a1a1a" textLength="98.5" lengthAdjust="spacing">Loss; <tspan font-style="italic">R</tspan><tspan font-size="4" dy="-2.8"> 2</tspan><tspan dy="2.8">=0.96; Adj–</tspan><tspan font-style="italic">R</tspan><tspan font-size="4" dy="-2.8"> 2</tspan><tspan dy="2.8">=0.96</tspan></text>
<text x="357.2" y="244.8" font-size="8.2" stroke="#000" stroke-width="0.3" textLength="101.5" lengthAdjust="spacingAndGlyphs">Cell fraction of abnormal cells (%)</text>
<text transform="translate(279.4 167.2) rotate(-90)" font-size="8.1" stroke="#000" stroke-width="0.25" textLength="77" lengthAdjust="spacingAndGlyphs">log<tspan font-size="5.2" dy="-3">2</tspan><tspan dy="3"> intensity ratio (LRR)</tspan></text>
</g>
<text x="7.3" y="17" font-size="11.2" font-weight="bold">A</text>
<text x="256" y="16.6" font-size="11.2" font-weight="bold">B</text>
<rect x="0.8" y="0.6" width="518.75" height="252.6" fill="none" stroke="#000" stroke-width="1.5"/>
</svg>
</body></html>
